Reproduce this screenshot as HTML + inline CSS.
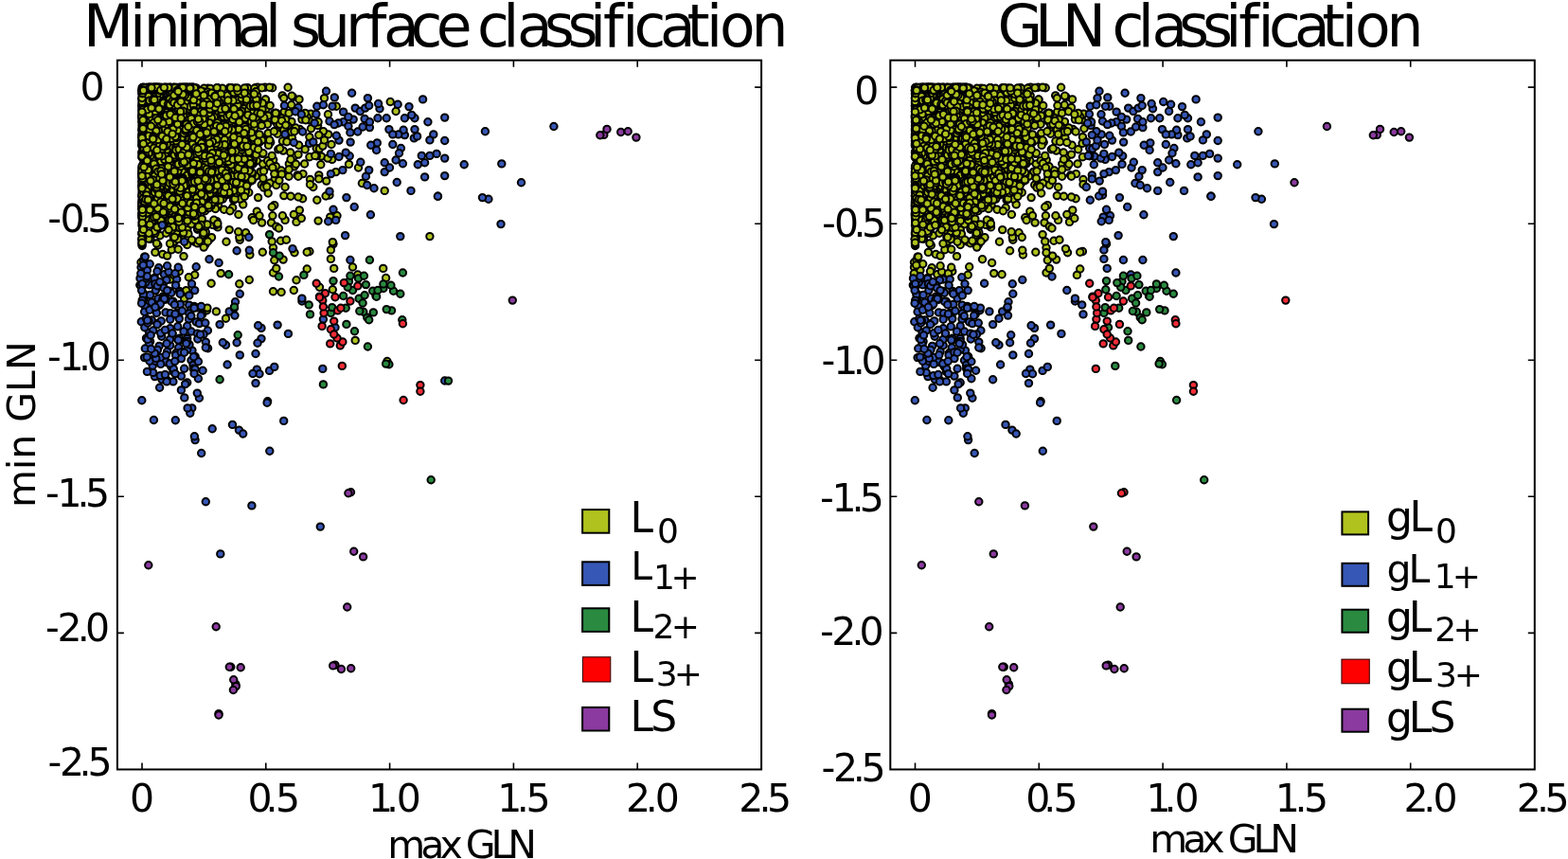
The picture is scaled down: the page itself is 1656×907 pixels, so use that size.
<!DOCTYPE html>
<html><head><meta charset="utf-8"><title>Minimal surface classification</title><style>html,body{margin:0;padding:0;background:#fff;overflow:hidden}svg{display:block}</style></head><body>
<svg width="1656" height="907" viewBox="0 0 1656 907">
<rect width="1656" height="907" fill="#fff"/>
<defs>
<marker id="mY" markerWidth="12" markerHeight="12" refX="6" refY="6" markerUnits="userSpaceOnUse" orient="0" overflow="visible"><circle cx="6" cy="6" r="3.7" fill="#afc21e" stroke="#000" stroke-width="2.0"/></marker>
<marker id="mB" markerWidth="12" markerHeight="12" refX="6" refY="6" markerUnits="userSpaceOnUse" orient="0" overflow="visible"><circle cx="6" cy="6" r="3.7" fill="#3757b6" stroke="#000" stroke-width="2.0"/></marker>
<marker id="mG" markerWidth="12" markerHeight="12" refX="6" refY="6" markerUnits="userSpaceOnUse" orient="0" overflow="visible"><circle cx="6" cy="6" r="3.7" fill="#2a8a40" stroke="#000" stroke-width="2.0"/></marker>
<marker id="mR" markerWidth="12" markerHeight="12" refX="6" refY="6" markerUnits="userSpaceOnUse" orient="0" overflow="visible"><circle cx="6" cy="6" r="3.7" fill="#f22c36" stroke="#000" stroke-width="2.0"/></marker>
<marker id="mP" markerWidth="12" markerHeight="12" refX="6" refY="6" markerUnits="userSpaceOnUse" orient="0" overflow="visible"><circle cx="6" cy="6" r="3.7" fill="#8b3a9f" stroke="#000" stroke-width="2.0"/></marker>
</defs>
<path d="M198.9 228.6 205.9 158.7 164.4 226.5 163.1 141.4 151.5 103.2 174.3 183.2 215.2 215.4 263.6 128.3 201.6 108.0 196.3 202.7 198.5 126.3 195.5 217.1 205.0 176.1 237.7 164.3 198.9 118.2 259.6 245.7 243.2 158.6 251.8 100.8 225.4 102.9 181.2 158.8 256.7 215.9 204.5 219.3 290.2 179.4 186.5 151.2 208.1 186.0 219.6 93.2 260.1 120.8 169.7 203.6 178.2 149.8 300.2 118.0 276.2 195.3 315.6 153.2 157.7 146.1 170.9 179.0 195.6 174.4 252.6 101.6 241.0 158.1 217.7 121.0 262.5 96.5 190.1 208.4 244.7 101.7 269.5 159.8 198.2 101.0 221.7 252.2 258.9 160.0 251.1 164.5 150.0 218.8 165.1 178.3 279.9 92.3 236.0 180.5 210.0 157.1 339.4 165.1 253.6 167.8 168.1 123.1 229.5 130.6 225.2 201.3 213.2 161.2 228.4 109.7 152.7 174.6 201.5 92.5 232.9 137.7 165.3 160.0 316.5 136.4 259.7 190.4 203.2 158.3 206.6 112.8 200.5 176.9 237.5 114.0 169.9 93.9 210.6 159.9 152.3 248.2 157.4 180.2 156.4 230.0 249.9 180.4 222.9 101.8 195.3 165.9 283.2 204.0 159.7 148.7 181.7 110.6 155.8 235.7 248.3 104.8 220.5 117.1 191.8 224.5 196.0 92.5 187.3 180.6 251.1 162.8 258.6 147.3 157.9 184.2 164.6 211.9 243.5 131.3 158.1 126.3 222.3 96.8 259.3 151.1 216.2 112.2 196.1 222.3 152.3 194.0 205.4 255.2 285.0 193.2 192.8 92.7 205.4 214.2 271.4 113.7 163.0 122.7 163.2 130.5 166.7 92.5 207.8 160.6 199.5 148.6 184.9 230.6 151.6 154.5 195.9 222.9 201.7 117.9 159.3 92.5 172.0 136.0 185.8 228.1 179.6 179.1 201.8 210.6 179.6 223.4 154.8 94.7 183.0 135.3 150.0 121.2 190.9 212.3 167.8 194.2 155.1 167.6 219.4 203.1 204.0 194.1 293.7 135.3 180.1 94.8 194.6 224.4 150.0 184.0 336.8 184.9 266.2 229.7 264.1 169.6 227.6 138.3 153.5 120.5 181.6 105.2 204.6 181.2 171.5 93.8 190.0 104.2 183.4 131.8 196.8 200.5 174.4 101.0 151.9 229.2 171.2 203.6 235.1 149.4 251.7 188.3 221.7 160.2 187.3 216.2 241.8 160.3 159.0 155.3 197.8 156.8 260.4 151.7 279.9 147.2 163.1 95.6 222.8 206.1 188.1 206.7 204.8 92.5 153.1 171.0 150.0 123.2 212.2 119.0 267.5 133.9 237.7 106.1 225.2 207.7 269.9 92.8 219.8 161.1 263.3 295.5 180.7 94.3 289.8 127.4 151.5 172.8 166.8 93.5 305.1 186.2 213.6 146.4 212.9 213.6 260.5 99.6 185.2 192.6 308.4 145.5 222.1 188.5 152.3 232.1 212.3 109.8 232.8 113.8 190.2 169.5 227.8 193.4 192.5 152.6 283.2 140.6 176.6 167.3 181.3 263.7 192.2 168.6 226.5 149.7 310.3 165.1 199.2 98.3 174.1 237.7 193.9 151.9 213.1 158.4 289.8 274.8 177.5 120.0 293.7 135.8 185.7 225.8 236.0 119.2 253.3 253.2 207.9 185.2 214.7 251.6 209.0 241.4 407.6 293.5 171.0 182.0 261.1 180.7 213.3 206.6 178.2 138.4 157.2 189.0 164.1 108.0 270.0 108.9 239.0 124.7 195.9 195.4 225.9 190.6 261.3 92.6 212.8 118.4 194.5 95.3 150.0 112.2 154.2 210.6 205.7 166.4 167.1 180.2 217.1 97.7 228.7 200.1 220.3 163.6 250.6 174.9 186.4 236.0 151.3 173.9 185.5 116.4 151.6 92.5 167.8 136.1 215.4 93.2 201.7 118.2 192.5 107.8 150.0 154.1 293.1 131.3 280.5 105.2 150.0 220.2 166.0 200.6 156.6 168.1 272.0 92.3 154.4 171.1 169.0 154.0 188.5 92.5 255.9 154.4 150.4 160.8 179.8 212.4 209.0 182.0 289.6 119.6 184.2 169.5 152.3 145.3 179.5 175.8 200.5 133.6 207.6 173.6 151.4 242.6 266.4 147.6 163.9 181.9 375.2 359.4 166.7 208.1 150.9 150.6 164.7 104.2 188.3 96.8 177.6 229.6 179.8 221.8 157.9 205.1 151.7 134.1 263.3 164.8 179.1 92.5 150.1 259.5 271.3 223.2 190.9 134.9 204.5 110.3 153.9 165.5 173.6 194.5 150.9 191.4 158.5 93.1 254.1 136.7 170.2 218.4 195.2 192.7 198.9 175.0 230.0 239.9 150.4 153.9 157.4 250.9 215.6 150.2 157.9 210.5 167.3 193.9 183.6 177.9 221.2 116.6 192.8 129.1 234.0 148.1 167.9 149.8 181.1 132.0 185.1 218.1 239.4 170.1 195.4 94.8 279.9 176.9 320.0 183.6 172.2 123.8 227.6 173.9 217.7 134.1 205.4 133.3 186.6 247.9 208.4 175.1 234.7 136.0 196.4 96.1 198.6 125.2 274.0 227.8 203.8 92.6 168.4 229.5 235.1 111.0 167.3 192.9 288.7 168.7 177.6 129.7 209.4 221.6 211.3 102.7 245.8 172.6 214.7 201.4 206.1 168.8 242.4 93.1 239.3 114.0 264.8 129.4 244.7 155.2 251.1 97.3 186.9 217.5 172.4 149.7 225.1 136.6 176.3 133.7 177.6 137.4 151.9 164.4 199.6 94.7 172.3 312.9 162.7 135.6 255.4 165.6 202.0 215.1 174.1 200.0 208.2 161.4 164.9 216.1 150.0 149.5 286.5 235.1 195.4 100.6 166.4 176.3 194.5 121.0 198.5 114.1 208.5 193.6 258.4 150.9 169.3 130.5 186.9 210.3 293.0 180.5 150.0 230.2 218.8 150.4 204.0 96.8 184.4 167.8 199.1 94.9 193.9 92.8 181.2 103.3 198.0 116.9 217.3 189.7 173.3 150.0 232.9 210.4 175.6 101.1 201.7 98.2 334.2 156.5 187.5 209.3 233.6 190.5 165.9 190.9 150.0 221.2 307.7 139.3 203.4 126.2 150.0 137.9 158.4 152.1 197.9 183.6 222.1 93.4 255.8 183.1 191.4 112.5 151.2 148.7 268.8 108.2 246.5 107.5 200.8 103.7 200.9 167.9 188.5 175.7 210.6 166.4 195.5 212.6 172.7 127.3 153.7 132.4 159.9 152.4 239.6 199.3 202.4 212.9 241.7 136.5 229.8 92.8 150.0 122.4 278.6 122.1 253.5 117.7 169.2 158.2 151.9 106.2 252.7 165.5 203.5 92.5 248.7 93.1 176.2 195.3 183.8 98.2 150.2 104.2 254.9 169.2 191.7 164.3 293.1 141.3 173.7 188.1 195.8 148.5 182.9 228.1 212.5 103.6 165.9 147.8 259.1 156.8 230.2 208.5 271.3 169.7 326.9 265.5 187.8 191.3 257.5 159.7 242.8 144.8 193.5 92.5 183.7 197.1 209.5 158.3 167.7 92.5 166.5 92.5 178.9 140.9 226.3 209.2 253.1 126.3 309.3 102.4 169.0 215.0 154.5 208.6 172.9 177.9 249.1 193.1 225.4 168.3 254.9 155.4 190.2 133.3 170.0 186.2 150.0 195.6 226.7 141.9 177.1 133.7 181.9 135.5 234.8 112.0 183.8 255.8 246.0 174.9 157.2 92.5 245.8 161.3 152.3 164.2 151.6 244.1 183.5 205.9 171.6 132.4 243.7 155.0 199.1 92.7 226.8 237.9 322.2 157.8 185.8 221.8 197.4 211.3 175.8 181.7 273.9 150.1 193.9 106.7 198.8 196.2 155.7 100.7 242.7 147.9 202.0 236.7 167.0 173.3 157.6 224.8 228.9 233.6 254.6 169.8 197.5 118.4 296.5 254.3 198.2 115.3 168.5 178.1 160.8 96.9 275.0 181.4 356.0 227.8 157.1 108.5 210.4 135.3 160.0 144.0 241.7 148.5 201.8 108.8 200.3 213.2 216.2 206.3 157.3 110.4 172.0 186.1 168.8 96.1 167.4 183.2 287.7 92.7 151.6 106.6 281.3 114.5 151.5 173.7 187.7 109.6 188.3 160.8 378.5 177.0 182.8 242.9 183.2 92.5 150.0 206.5 298.4 149.0 277.3 266.2 174.9 200.0 289.8 216.6 236.6 130.4 193.0 99.3 237.5 171.1 189.3 134.1 172.4 194.1 262.0 167.4 221.0 176.7 217.3 245.2 206.6 152.7 175.1 93.8 177.7 205.6 156.0 167.6 152.2 185.8 153.1 183.6 164.7 108.2 241.8 179.1 261.9 124.1 164.8 221.9 247.5 111.2 150.0 252.3 175.2 224.4 352.0 257.6 306.7 161.0 217.9 138.3 184.3 169.8 228.8 119.9 154.4 97.2 151.3 131.5 166.8 259.0 165.2 126.4 221.6 183.1 196.7 306.6 203.1 162.9 206.7 114.1 154.5 110.0 197.8 242.6 285.7 150.3 266.7 152.1 176.1 109.7 202.6 177.9 222.8 148.8 237.0 133.2 220.3 219.2 271.6 109.3 172.4 215.8 152.8 124.5 150.0 206.9 189.3 221.1 194.0 92.5 210.4 180.0 185.5 92.5 335.6 132.5 187.4 148.2 250.4 168.7 150.0 111.9 150.7 104.4 235.3 182.5 184.4 102.2 215.9 169.6 268.4 110.5 314.1 185.0 169.9 146.1 237.7 129.9 201.7 92.5 291.8 239.1 168.4 131.5 212.1 194.7 172.3 154.6 182.9 177.8 194.1 229.4 150.0 196.7 181.1 137.4 217.9 134.7 302.4 253.3 195.5 171.2 165.1 144.2 152.3 93.2 237.7 125.7 201.7 137.7 166.5 188.5 259.9 204.4 168.7 141.0 232.8 101.2 216.4 126.6 152.3 204.2 209.7 164.8 179.4 203.5 168.9 248.7 249.7 116.8 199.0 151.9 153.2 136.3 202.3 218.7 220.7 160.2 193.1 144.8 182.3 149.2 351.3 255.6 253.4 195.3 211.6 151.2 159.9 127.6 150.0 128.6 150.9 92.5 252.4 155.6 261.8 114.8 190.2 92.5 150.0 95.5 160.0 206.6 198.9 246.9 234.9 206.2 255.5 185.1 219.5 128.4 208.2 162.5 189.0 117.9 263.4 99.8 201.6 176.5 209.7 222.3 153.0 217.4 240.0 157.0 319.6 209.7 233.7 205.7 215.2 97.0 160.1 94.9 198.9 102.4 158.4 220.2 224.6 157.8 220.0 177.2 312.3 135.0 163.2 129.9 151.2 189.6 260.0 108.6 180.9 202.3 181.3 132.4 192.3 151.6 205.7 226.5 244.9 109.1 250.3 113.1 183.4 145.7 273.8 121.5 180.5 192.5 214.8 156.3 229.0 196.1 199.4 96.8 217.3 167.8 241.7 157.3 195.9 103.8 197.7 207.4 257.4 191.7 326.1 126.7 155.7 178.7 404.7 283.4 246.4 123.4 188.3 165.3 172.5 222.5 172.1 159.7 200.7 197.5 224.7 177.8 221.8 175.3 163.9 266.4 270.6 107.4 196.1 176.9 315.0 208.0 168.9 199.4 227.2 180.1 162.5 92.5 178.1 108.0 178.9 199.8 162.7 120.2 177.8 111.6 186.4 93.5 198.5 184.1 180.5 144.0 188.7 216.0 252.5 185.8 218.9 180.9 158.5 92.5 212.5 152.4 180.1 239.3 200.6 225.2 183.3 131.2 171.2 125.2 214.6 168.0 159.6 92.5 251.3 130.5 297.1 308.5 257.5 137.9 173.3 119.1 334.3 164.7 190.2 203.0 198.4 93.7 157.6 134.9 195.9 103.3 205.2 110.8 187.3 209.7 195.1 118.5 179.8 146.7 238.7 161.5 372.5 282.0 221.8 203.5 158.9 94.2 151.5 211.4 197.7 140.9 181.0 118.6 202.5 211.3 208.7 165.1 150.0 225.5 271.1 129.1 174.5 234.0 150.0 190.8 151.7 156.0 221.8 120.2 171.2 162.8 196.2 100.0 263.1 192.1 193.8 179.9 198.0 111.2 229.0 111.5 186.0 157.6 271.7 105.0 252.4 125.2 253.7 179.5 355.3 112.2 188.2 263.2 236.1 145.0 243.5 176.1 262.8 203.3 153.6 127.4 169.6 104.5 270.5 154.6 171.0 130.8 200.1 199.1 254.9 168.5 227.1 193.0 251.3 141.9 158.8 223.3 195.5 92.5 157.8 102.7 222.7 155.2 189.0 94.6 181.2 131.5 175.3 192.5 156.0 223.5 203.4 92.5 152.0 124.0 264.6 118.0 186.4 126.3 189.3 132.8 191.9 182.2 249.3 96.1 239.0 183.0 157.5 92.5 188.8 113.6 172.6 213.8 195.7 163.8 157.8 175.4 163.7 93.2 204.9 96.8 199.7 92.5 274.9 149.2 176.5 174.8 218.4 143.7 181.2 109.6 208.2 101.8 224.2 142.8 205.0 176.2 275.3 181.6 182.4 217.6 221.1 160.8 232.9 183.2 208.5 256.9 211.7 119.0 249.4 192.7 244.1 162.9 170.0 139.7 241.4 148.1 168.5 148.8 150.0 224.5 215.4 195.8 187.8 232.1 225.0 124.3 224.5 168.7 262.0 93.3 183.5 130.3 150.0 121.8 150.6 242.0 192.3 93.2 228.3 194.9 150.0 215.1 220.0 100.3 150.0 195.7 167.2 130.5 206.9 150.2 152.1 183.1 201.2 139.0 243.0 166.3 153.3 120.5 249.1 143.8 155.5 143.5 252.7 187.1 187.8 109.8 162.9 105.9 257.5 160.7 214.4 131.2 195.9 228.6 382.4 193.5 194.8 211.1 182.0 114.5 196.6 180.0 228.0 122.4 213.6 112.6 173.5 115.3 262.1 109.1 150.0 258.3 155.8 102.0 316.3 221.9 240.2 137.8 271.8 131.4 192.6 139.4 326.9 165.7 346.5 120.8 230.4 139.4 170.2 170.0 280.4 105.0 159.1 219.6 150.0 161.8 244.5 113.9 209.6 178.1 191.2 128.8 160.7 147.7 226.9 117.9 192.8 220.6 208.1 128.5 164.3 135.5 152.3 94.4 150.0 145.4 160.6 93.1 245.1 195.5 203.2 195.2 195.3 214.3 230.5 139.9 262.9 138.1 188.2 204.6 201.8 134.0 188.3 190.7 187.5 142.2 212.7 116.3 184.9 226.0 207.3 92.9 193.9 180.7 166.4 228.5 249.7 145.0 283.1 122.2 270.7 106.9 155.5 221.8 213.0 111.5 178.1 92.9 150.1 115.8 226.2 159.9 278.5 180.8 196.1 147.9 328.1 120.1 194.9 120.3 202.9 202.8 221.0 219.0 150.0 213.3 156.8 113.4 215.5 104.3 167.3 204.7 200.9 156.3 164.3 121.2 234.2 130.4 200.0 219.1 150.7 253.7 150.0 177.6 192.2 122.1 155.1 160.6 225.9 178.6 246.5 174.0 152.4 223.0 170.9 138.0 195.3 223.8 152.0 102.8 213.4 182.9 174.9 227.2 192.7 149.1 262.7 120.5 216.5 219.0 202.7 104.7 162.2 183.9 229.9 142.5 176.8 224.3 214.4 196.2 221.3 201.9 277.7 173.1 166.9 104.4 324.2 123.4 260.0 162.3 161.3 111.8 153.8 210.6 184.6 140.2 270.1 186.1 206.0 212.1 172.4 92.8 150.0 178.2 215.5 157.5 172.4 113.6 189.6 145.9 159.8 130.1 167.9 104.0 187.6 237.9 183.7 140.5 229.2 138.0 187.5 246.9 235.5 153.5 238.4 143.5 172.5 182.7 166.2 241.5 207.2 210.9 259.9 138.2 158.3 208.8 183.6 160.5 226.2 127.5 165.9 132.1 150.2 130.1 192.2 92.5 194.6 220.8 278.8 124.2 171.2 208.4 194.1 107.4 189.4 185.8 150.5 232.6 173.6 116.9 205.0 123.7 152.7 208.0 247.6 117.4 152.8 138.7 264.1 134.2 167.2 130.6 239.0 255.3 260.9 98.1 266.2 184.5 290.3 188.2 216.5 222.8 159.1 140.4 226.8 178.6 302.9 149.7 154.7 115.2 205.7 160.7 176.3 184.8 239.0 154.1 167.2 206.1 158.3 92.5 150.0 111.6 178.4 122.2 185.9 188.3 194.2 133.5 159.4 158.7 180.1 92.5 177.4 210.7 190.4 227.1 205.7 290.2 188.9 153.1 153.9 230.4 352.7 283.4 185.8 192.9 228.8 162.6 201.4 133.8 157.0 234.6 336.8 188.9 223.7 101.3 215.9 217.6 231.9 138.6 177.4 231.9 244.9 169.7 191.3 177.9 204.3 226.4 231.5 137.9 171.4 230.4 171.2 122.0 184.5 107.0 212.6 100.2 201.9 146.4 174.5 92.5 188.3 219.5 178.3 130.6 209.2 142.4 183.8 92.5 164.2 112.5 189.4 161.1 236.8 154.0 327.5 189.5 185.9 205.8 270.0 128.7 217.9 136.3 173.2 186.6 198.6 173.3 165.6 143.5 151.9 216.2 183.9 219.2 176.9 215.2 167.7 150.8 259.7 189.4 219.5 201.6 211.3 115.8 208.7 115.2 226.6 147.4 251.7 161.4 243.0 152.5 267.4 173.0 229.1 164.4 160.4 158.8 212.0 166.4 237.9 103.8 248.7 197.2 350.7 168.4 250.4 204.5 243.2 102.7 208.0 140.0 233.7 142.0 177.0 163.5 177.3 104.3 201.3 147.3 169.4 111.0 239.5 162.0 150.6 242.0 251.9 162.8 174.3 164.7 267.9 144.8 234.5 202.2 197.5 94.0 233.1 166.7 178.8 182.6 177.7 119.4 150.0 182.0 209.3 107.0 157.1 123.9 235.1 179.3 239.3 138.1 253.8 139.2 167.7 147.0 174.1 136.0 266.1 182.1 264.2 119.5 242.2 242.6 175.1 121.8 418.1 117.5 206.8 113.5 150.3 229.0 150.1 210.0 206.4 198.5 212.5 233.0 150.0 214.7 222.9 101.5 189.4 156.9 253.5 172.8 174.8 183.3 307.9 128.4 196.1 92.5 203.6 178.5 218.6 160.0 191.5 250.2 156.8 225.8 190.2 155.0 173.2 94.3 264.8 142.8 181.9 174.0 150.1 122.4 174.5 218.7 243.1 109.4 169.1 111.5 225.6 127.4 213.7 216.0 245.4 185.7 223.2 201.7 185.3 194.2 150.0 125.6 245.7 133.6 303.7 132.7 269.5 128.3 171.3 117.4 282.6 169.7 209.7 202.8 162.7 199.9 189.1 197.8 244.2 179.5 196.1 105.1 235.2 201.9 224.2 117.2 205.6 163.1 205.6 166.7 191.0 179.8 262.7 148.3 193.2 191.4 221.4 173.2 196.6 216.7 337.4 157.1 193.7 169.5 195.8 133.3 153.9 193.8 149.8 226.5 198.4 182.5 182.7 239.8 197.9 92.5 190.2 164.0 196.1 182.3 195.4 125.3 220.0 216.9 219.9 134.6 157.8 248.8 258.2 136.0 313.0 234.4 150.0 104.7 258.7 100.9 171.5 126.5 167.8 92.5 223.1 204.9 267.5 168.6 179.3 104.3 186.9 118.9 202.7 115.6 232.9 112.3 254.7 192.9 165.8 173.7 277.0 115.3 212.6 205.1 150.0 103.3 169.7 126.9 151.4 212.7 181.3 101.6 162.1 162.2 162.0 92.5 222.7 157.8 213.4 192.0 227.9 188.6 253.1 194.6 245.2 145.9 178.0 92.5 182.1 118.4 186.3 92.9 227.6 156.8 194.6 110.4 195.9 132.2 174.5 92.5 180.4 100.3 181.0 205.8 181.4 219.9 301.1 232.4 267.6 232.5 162.8 147.8 240.3 146.6 250.9 126.0 165.2 186.9 163.8 168.0 193.2 180.5 254.8 147.9 164.2 137.3 187.9 98.8 214.0 170.2 249.2 100.4 233.7 181.9 201.8 183.1 220.1 145.9 215.5 132.0 165.3 129.8 201.4 152.1 150.0 94.9 268.8 93.3 204.0 162.8 152.2 100.1 254.9 123.3 222.2 136.5 189.3 214.8 406.2 201.4 197.1 127.2 290.9 119.2 224.6 237.4 151.5 187.0 199.3 160.1 244.4 93.2 155.9 165.1 192.1 98.8 175.3 171.4 166.4 136.9 224.7 180.2 151.9 165.7 243.0 127.6 216.9 197.1 202.0 116.4 256.4 113.5 377.8 290.0 169.5 172.1 150.6 151.9 180.5 145.8 169.8 142.6 169.3 115.6 182.3 159.4 165.6 92.5 164.7 92.5 152.0 99.7 192.0 148.5 192.9 207.7 151.0 110.9 203.2 207.9 249.8 200.5 158.8 184.6 193.2 95.5 234.2 169.0 220.9 158.7 251.6 103.1 189.3 286.5 189.9 107.7 189.0 101.8 198.1 106.8 171.8 268.5 188.7 215.2 169.9 217.8 199.5 105.6 171.7 200.3 163.8 199.1 227.2 124.9 230.5 216.3 313.0 295.7 288.5 261.5 178.0 144.6 243.0 198.4 264.9 149.3 207.2 143.0 200.6 214.8 205.3 150.9 234.6 118.7 213.2 256.7 168.5 181.8 182.0 136.7 184.7 137.7 188.5 194.9 224.5 154.2 299.8 206.6 203.2 210.5 223.9 187.1 227.0 193.7 199.2 230.8 257.2 176.6 209.0 216.7 170.3 145.2 244.7 130.7 215.3 188.3 150.0 128.3 159.7 194.7 200.6 137.9 151.4 92.5 187.8 95.0 234.4 201.5 247.1 140.9 205.8 182.4 257.5 139.8 262.0 138.1 154.9 229.0 154.7 127.3 222.6 123.8 163.0 211.2 155.8 173.0 150.0 203.2 252.7 122.6 228.4 165.1 203.2 137.7 204.4 127.7 223.1 104.5 201.1 148.0 204.4 223.2 167.5 128.4 150.0 207.0 218.4 213.3 197.3 113.6 236.5 114.5 163.3 221.2 238.0 106.3 150.8 136.1 194.9 96.6 174.7 201.2 175.8 139.4 213.0 206.2 190.4 114.5 150.0 217.9 351.3 305.8 178.2 230.4 169.8 212.8 270.4 154.5 175.5 246.3 241.2 141.8 155.8 130.6 179.9 170.7 255.8 188.8 258.9 99.2 193.7 245.7 176.1 202.7 178.0 183.3 231.8 148.0 187.4 104.6 214.4 248.1 150.4 161.0 167.7 177.2 186.8 165.4 157.4 165.3 174.5 97.4 162.3 107.9 208.4 135.3 223.4 178.5 237.6 170.4 171.3 127.3 157.3 109.8 152.7 94.5 291.5 175.8 198.1 229.6 154.3 127.4 151.6 247.9 156.4 92.6 207.4 131.4 214.0 195.4 257.0 190.4 154.3 99.5 249.3 189.5 242.2 119.5 178.5 95.9 209.2 160.6 368.5 173.4 166.5 225.7 203.6 110.6 191.6 149.2 157.3 121.8 210.6 197.6 222.2 122.9 234.4 137.7 158.4 107.4 155.7 120.0 155.1 190.7 173.6 182.6 196.2 115.9 251.2 141.5 242.4 92.6 190.9 218.5 175.7 114.1 210.8 140.7 252.8 299.7 164.3 187.1 189.8 112.4 158.4 164.7 192.8 181.5 206.2 232.5 181.4 226.5 178.0 212.7 150.7 109.2 183.9 231.5 198.6 98.6 167.8 172.4 195.2 92.5 168.7 193.4 189.6 214.9 258.6 128.2 187.2 196.4 208.7 164.3 174.5 123.3 204.8 164.2 171.3 93.8 161.6 179.6 164.7 223.5 174.0 151.5 160.7 221.7 169.1 129.6 211.6 203.2 191.4 127.6 223.6 155.5 150.1 234.6 272.1 142.3 163.0 176.1 185.8 136.1 256.3 122.0 235.4 126.0 322.2 119.4 249.7 156.0 157.6 149.4 157.2 120.1 173.4 102.1 162.4 212.8 211.5 151.1 183.4 250.5 150.0 124.4 340.9 154.1 171.4 193.5 288.5 288.0 307.0 207.3 158.9 252.3 277.3 108.9 197.1 101.5 227.8 135.9 167.8 130.1 326.9 144.6 229.9 131.5 177.6 191.1 167.0 176.8 197.9 233.1 349.4 273.4 261.3 109.0 249.3 111.4 243.9 92.6 342.5 103.6 151.0 252.7 201.1 133.5 170.2 166.2 178.1 166.8 202.7 169.3 168.4 134.0 324.2 284.0 219.2 113.3 197.3 209.3 305.1 119.4 272.0 130.0 160.9 186.9 185.2 96.7 180.2 185.7 171.2 118.5 192.6 92.5 174.7 211.3 271.7 101.1 251.1 98.6 174.0 92.5 201.4 122.7 240.8 147.5 336.1 128.7 201.2 164.2 161.9 95.3 236.6 221.2 179.0 114.9 207.1 212.1 234.9 136.5 180.4 154.7 154.9 92.5 206.4 210.6 149.0 277.0 150.6 123.3 202.4 106.9 152.1 147.2 150.9 106.1 255.5 171.2 166.3 211.6 192.9 106.8 152.0 148.8 164.3 168.1 264.9 190.4 176.0 137.6 282.5 131.3 235.3 210.1 199.4 208.4 253.1 107.8 231.5 203.3 189.7 118.6 241.9 182.5 258.0 114.7 214.4 166.3 204.3 221.5 174.0 152.7 178.0 196.7 253.5 210.1 171.4 137.7 161.3 186.7 225.8 187.3 150.0 137.2 168.4 225.5 193.1 157.5 232.9 160.9 233.8 154.4 172.8 109.8 153.5 156.3 245.9 102.9 453.9 249.6 251.0 110.9 232.1 163.2 165.4 92.5 198.1 166.0 315.0 186.2 188.4 98.9 159.1 166.8 182.4 204.3 186.2 203.5 222.4 122.1 156.2 189.3 271.9 107.4 180.3 123.3 268.4 116.4 186.4 136.0 185.0 132.3 168.8 227.8 176.0 139.6 236.1 161.6 155.8 185.3 256.4 143.5 174.2 162.4 164.4 92.5 202.4 132.1 199.9 92.7 258.3 131.6 201.5 203.5 196.2 198.1 150.8 106.3 201.9 106.0 186.8 122.1 203.0 92.5 283.6 153.4 291.8 195.5 163.5 102.2 200.4 93.4 195.0 195.7 158.8 95.2 156.3 92.5 180.6 149.8 179.2 139.9 229.2 212.5 216.9 258.2 298.9 135.9 162.3 92.5 166.0 192.9 158.4 117.2 258.6 133.8 172.8 174.5 182.5 93.2 279.0 196.3 188.1 151.8 177.6 204.3 200.5 131.8 219.3 97.3 243.6 185.1 156.2 188.6 153.4 152.5 159.9 202.4 189.9 240.6 184.2 98.2 167.6 155.2 210.9 152.9 259.0 175.3 199.3 292.8 190.5 212.9 254.2 189.5 206.5 149.1 160.6 93.2 167.7 195.9 150.0 165.7 222.2 107.3 170.2 150.3 151.6 228.3 212.4 167.0 165.2 162.8 226.9 102.5 187.6 164.6 159.6 194.1 208.8 148.2 206.2 163.6 245.2 137.5 171.6 128.0 230.3 110.3 208.7 176.2 150.0 109.8 246.6 211.2 183.5 99.0 213.1 98.3 175.6 138.0 202.0 166.5 195.8 212.2 189.2 94.7 190.1 217.1 318.9 126.1 161.9 246.6 183.5 255.3 170.3 102.7 216.8 210.3 251.7 156.9 183.7 92.5 175.5 163.2 196.4 97.5 175.3 120.0 161.6 152.3 316.0 104.9 154.6 92.5 168.8 105.2 182.0 223.6 185.3 157.7 174.8 136.5 259.7 179.9 155.2 188.3 232.4 99.9 150.0 99.2 165.4 257.0 310.3 226.5 242.4 162.2 176.4 123.8 154.0 147.7 205.2 184.6 198.3 117.1 197.6 185.1 193.1 187.8 188.1 115.5 213.4 130.6 168.6 134.6 159.4 94.5 227.3 192.0 177.6 117.1 223.9 105.9 230.2 201.1 180.4 204.4 155.3 148.0 223.4 215.4 179.0 190.0 227.0 136.8 203.3 169.4 150.0 227.8 171.2 192.0 150.6 125.5 232.3 158.8 259.1 125.1 189.9 132.4 304.1 92.3 195.8 101.6 252.6 129.7 324.2 266.2 188.6 152.6 150.0 152.7 189.3 92.6 175.8 142.1 222.6 203.1 167.3 234.1 163.0 104.3 202.8 183.4 167.3 141.9 166.2 94.0 299.1 274.1 259.3 179.4 200.8 92.5 230.6 128.0 220.4 169.0 258.0 151.8 231.1 190.7 174.7 218.1 198.1 221.9 197.9 117.3 160.5 204.5 276.2 145.2 163.3 148.8 301.1 197.5 174.9 161.2 250.6 105.4 220.6 105.7 220.4 112.7 157.0 252.1 235.7 141.0 238.5 336.3 212.0 199.0 174.8 143.0 150.7 223.3 201.0 93.7 217.6 238.8 159.6 157.1 163.8 246.3 207.1 111.3 153.7 119.7 150.5 94.0 311.0 266.8 204.1 94.4 152.3 145.8 206.3 201.8 257.2 176.1 166.7 229.3 223.5 250.6 178.4 184.2 167.9 92.5 188.8 231.7 160.8 230.2 176.6 270.1 161.7 232.0 221.9 122.9 180.0 107.4 328.5 135.8 261.9 189.7 237.1 153.2 207.1 195.5 174.1 142.4 168.6 118.7 215.9 119.0 150.0 123.2 318.3 230.5 161.1 167.6 168.6 133.9 212.9 154.5 192.6 143.3 223.4 189.4 218.8 186.4 297.0 124.7 150.0 182.7 204.8 92.5 202.5 217.6 265.5 172.8 199.7 217.6 150.0 135.8 244.0 106.7 214.9 190.6 255.3 103.9 220.1 176.0 191.6 92.5 238.3 161.4 243.8 114.2 200.6 166.9 298.2 100.9 293.1 131.2 170.5 139.9 181.8 210.5 179.6 150.5 178.1 177.9 180.2 98.1 150.0 187.9 208.5 226.8 163.0 244.3 150.9 136.9 198.5 167.3 227.1 204.6 249.0 155.5 255.1 158.2 175.5 104.9 180.4 145.5 175.8 168.5 168.3 154.3 259.1 181.8 219.8 214.4 203.9 205.1 160.5 92.5 169.5 161.6 346.7 141.9 162.6 101.1 265.4 128.4 184.3 194.7 214.8 220.3 224.2 102.2 225.9 198.4 185.7 176.6 170.4 92.5 150.6 153.1 150.7 96.9 254.0 183.5 263.9 178.0 152.6 170.9 266.3 190.5 165.2 103.3 229.2 192.1 160.8 98.7 215.0 107.8 158.6 145.6 212.1 113.2 182.5 137.9 354.7 181.6 270.6 104.9 166.1 138.2 183.8 129.6 174.5 150.5 150.0 192.3 227.8 168.5 299.1 159.1 186.9 111.4 251.2 154.0 263.1 180.2 174.8 184.0 227.0 183.5 167.7 102.5 188.5 172.6 191.0 92.5 177.4 112.1 201.7 190.4 262.3 147.7 158.1 143.3 160.4 181.1 217.3 172.5 188.5 196.9 218.7 109.9 154.6 208.8 167.5 115.4 186.1 136.6 150.0 212.4 243.8 135.2 225.3 213.8 198.2 164.9 164.7 176.8 245.5 195.7 193.5 170.3 166.0 194.3 180.6 123.1 150.0 184.2 159.1 196.2 155.1 212.2 157.2 189.8 225.2 206.2 179.0 182.9 152.2 218.7 221.6 206.0 190.1 99.2 203.9 92.5 233.8 194.2 159.8 156.0 169.9 202.9 150.1 92.5 150.6 176.7 151.8 129.8 255.2 117.4 277.3 162.4 260.5 150.3 167.6 134.1 167.2 96.0 214.4 184.9 276.6 148.0 171.0 207.4 166.0 239.9 163.3 134.3 186.3 115.8 166.2 127.6 170.5 181.5 262.6 115.5 199.4 132.5 163.6 95.3 166.8 210.8 229.4 188.8 158.4 149.4 206.7 121.0 200.0 121.7 245.2 167.6 185.0 173.9 165.3 145.4 150.7 93.8 153.3 97.9 212.3 96.0 219.7 126.2 330.8 197.5 176.5 153.1 201.8 118.7 156.5 93.0 152.1 196.7 232.0 165.2 238.0 116.0 150.8 251.4 171.9 155.0 233.2 288.6 278.6 198.1 218.6 185.3 184.2 224.3 194.1 169.6 229.4 177.3 180.6 174.1 229.1 237.0 195.1 172.8 226.8 201.0 153.3 125.4 197.9 92.5 210.2 214.1 212.9 198.5 221.8 204.5 305.3 173.1 156.1 98.4 190.2 93.6 226.7 200.5 164.7 145.6 210.3 126.7 198.5 101.6 179.8 92.5 201.3 194.1 150.0 117.9 155.1 168.4 226.2 123.8 172.0 149.6 259.2 142.5 167.3 214.2 227.5 220.5 193.2 172.0 268.1 147.7 178.9 188.0 170.9 97.1 166.5 99.6 190.2 128.7 238.1 179.8 171.3 215.2 218.0 188.6 297.1 180.0 219.5 255.0 173.2 210.8 198.9 104.7 193.7 128.9 311.6 114.8 189.2 188.1 188.0 251.6 219.7 190.7 202.7 92.6 172.3 227.9 206.1 169.4 301.7 126.1 202.8 92.5 252.8 250.5 220.4 197.8 220.2 191.7 270.1 145.2 216.4 218.2 155.3 222.7 205.4 126.2 187.4 134.4 244.1 174.1 246.2 114.6 222.4 177.2 195.9 114.3 192.7 142.6 268.8 126.2 192.9 124.4 160.2 128.1 159.4 163.7 177.0 105.9 204.3 147.8 214.9 133.8 178.3 207.4 220.0 99.8 155.9 149.8 159.5 100.8 195.6 103.8 205.0 113.4 350.0 152.5 245.7 219.2 193.1 103.7 246.1 99.6 168.2 110.5 199.9 107.9 154.3 115.7 160.8 201.2 222.4 104.2 189.9 97.8 204.1 124.3 210.3 178.9 168.5 110.0 167.9 231.0 253.3 119.4 189.4 168.9 220.3 127.7 162.1 224.5 268.1 155.8 188.0 180.5 245.0 150.6 247.4 93.3 155.1 186.9 251.8 196.9 168.6 100.7 161.2 92.5 287.2 218.5 164.7 121.3 218.4 107.4 167.6 172.9 150.0 115.1 192.8 145.0 185.9 125.2 166.1 104.5 202.5 253.2 182.0 198.7 152.8 188.1 223.6 115.6 196.0 104.6 158.6 118.2 152.1 214.7 243.7 103.6 266.2 171.4 187.8 207.5 154.1 110.6 160.5 186.2 213.4 114.7 154.6 230.4 201.6 223.0 186.0 189.1 166.9 145.4 195.8 157.5 162.3 163.9 241.2 161.6 150.0 185.8 158.6 214.4 209.4 169.1 209.9 202.5 180.7 151.5 243.5 103.9 152.9 120.9 150.0 229.0 174.3 162.5 203.2 174.8 225.1 156.1 228.4 328.9 178.5 158.1 167.4 157.5 178.4 222.3 341.4 138.6 150.0 247.5 201.6 124.9 201.6 159.5 226.0 200.1 172.8 130.4 159.8 159.7 150.0 185.1 150.0 132.8 150.0 192.2 159.4 139.9 180.8 93.7 273.0 150.9 201.5 199.0 210.4 254.2 196.2 173.9 208.2 108.3 412.2 107.5 176.7 149.9 230.5 162.3 176.4 157.9 211.3 215.8 200.6 159.8 162.4 149.1 150.0 160.3 219.7 164.7 270.7 121.9 179.4 204.1 184.2 212.9 220.5 214.7 180.2 92.5 247.0 143.4 169.8 122.5 220.8 145.5 179.7 106.0 170.4 166.8 225.4 153.2 186.8 108.8 159.9 193.4 222.9 217.4 165.1 187.0 263.2 163.0 157.2 123.2 232.8 145.3 163.8 132.4 170.6 213.3 166.9 176.8 258.3 92.9 199.0 146.4 182.8 201.3 190.6 225.1 215.7 164.6 230.6 152.6 176.0 232.9 151.9 193.6 183.1 158.1 247.2 210.6 207.8 171.1 201.3 173.7 193.2 136.5 292.6 120.0 155.4 123.6 269.2 124.5 257.3 171.2 150.0 246.1 182.0 148.3 202.1 93.5 252.1 186.6 166.9 98.3 152.0 199.6 188.8 232.8 349.4 263.9 210.4 168.6 182.9 167.2 220.6 191.1 217.9 189.3 179.1 122.3 287.9 227.8 185.7 155.0 237.3 156.1 159.2 138.4 183.8 134.3 205.2 202.1 149.8 217.0 222.5 117.9 246.4 123.1 151.7 167.6 204.0 209.8 336.8 142.6 265.1 142.2 152.9 111.9 183.6 207.0 220.6 219.6 251.9 226.5 161.7 101.7 271.0 126.6 160.1 194.5 155.6 224.8 260.7 103.6 268.7 135.2 156.9 232.4 155.6 116.1 156.5 157.6 169.4 197.0 199.7 129.4 160.0 163.1 169.2 158.3 179.3 206.9 189.0 94.0 152.4 101.1 185.2 166.0 210.6 204.2 157.9 92.4 337.5 303.2 223.4 124.5 179.2 108.7 220.1 182.1 334.8 211.3 161.5 169.8 184.1 92.8 214.4 113.0 151.2 130.8 252.2 136.4 223.1 299.2 183.5 161.6 220.5 154.9 213.9 124.2 158.5 182.7 240.2 188.7 199.7 155.0 264.8 121.3 235.6 150.7 408.9 381.5 240.0 123.2 203.1 181.9 184.1 206.7 192.2 136.7 188.2 93.9 242.0 143.2 150.5 228.8 251.8 192.4 163.0 111.4 242.8 148.7 299.8 103.6 250.5 128.0 229.6 129.8 203.9 190.8 153.7 93.0 180.5 222.7 245.3 137.1 194.6 315.1 346.1 167.1 191.3 228.5 262.8 166.2 173.9 117.9 150.0 185.1 191.8 213.3 150.0 220.2 152.5 148.6 151.3 115.5 206.7 163.3 239.2 166.3 226.6 146.1 171.1 168.9 176.4 145.3 239.4 105.7 178.3 145.3 227.9 150.4 310.7 175.9 186.4 173.6 220.9 187.9 287.2 164.4 208.4 215.2 169.8 170.9 276.6 235.1 192.4 239.9 348.0 206.0 248.8 152.3 179.8 216.9 164.1 119.1 162.7 219.0 227.3 170.2 223.6 98.2 182.2 107.7 151.8 108.4 179.0 193.2 195.0 214.0 267.6 118.5 201.4 219.8 227.1 176.8 186.2 157.9 194.7 124.2 186.6 224.9 186.7 159.1 170.3 92.5 344.7 191.1 202.2 114.0 246.1 151.3 217.8 136.9 210.5 120.9 201.4 93.8 164.2 92.5 158.5 139.3 164.8 191.6 160.6 131.9 158.8 164.7 268.4 131.0 233.2 155.5 194.7 167.8 172.5 106.6 243.4 110.3 175.6 154.1 238.1 193.1 202.6 217.2 185.4 227.9 236.3 130.4 182.9 155.4 188.9 212.7 213.2 164.3 194.4 163.9 181.2 135.9 225.9 232.2 163.0 92.5 158.1 192.1 231.8 182.1 237.3 161.4 206.7 97.8 182.6 137.0 151.1 103.3 200.8 163.1 232.5 185.4 237.2 147.5 184.0 208.7 181.3 219.5 168.2 94.0 245.1 188.7 233.4 194.5 181.4 149.0 150.0 144.3 218.9 187.7 150.5 108.0 211.7 188.0 191.6 93.0 230.0 151.5 195.3 213.4 220.6 119.4 289.4 138.7 221.7 115.4 162.4 213.5 241.3 170.6 203.5 196.2 252.0 177.4 179.2 104.7 285.0 172.5 265.6 109.9 239.8 205.8 174.5 126.3 189.8 206.8 166.8 94.9 180.4 177.2 262.0 121.4 185.2 191.5 234.4 108.8 261.0 151.4 229.3 133.4 198.1 173.9 222.0 179.9 199.2 110.4 189.1 234.3 210.4 177.7 239.3 204.6 200.3 92.5 165.3 190.6 215.6 159.2 181.0 92.8 150.0 153.4 159.0 127.6 175.9 151.6 207.1 113.4 238.4 201.2 277.9 161.8 219.3 160.5 224.9 212.4 236.1 132.0 218.9 237.0 208.6 242.3 186.8 149.5 246.1 119.0 216.5 167.1 234.9 93.3 220.8 215.3 198.2 102.7 164.2 189.2 159.8 94.9 220.8 110.8 190.4 220.9 164.3 183.2 176.3 152.1 163.2 196.5 246.1 106.2 214.9 176.8 240.3 100.8 181.1 183.9 185.8 98.4 195.9 222.9 160.9 102.0 150.0 123.5 267.2 145.3 173.4 215.0 208.6 117.9 262.9 160.5 163.1 92.5 197.4 153.0 336.1 233.1 245.6 121.9 187.7 252.6 185.9 145.4 168.9 154.6 233.3 99.2 252.2 143.5 228.7 154.4 195.5 157.5 211.8 210.3 207.9 137.1 194.6 209.2 220.6 200.1 203.9 224.8 218.3 178.4 157.0 92.5 188.4 125.4 221.2 129.6 272.4 149.7 201.1 203.6 160.8 130.4 150.0 246.5 276.3 132.6 255.8 194.4 253.1 119.8 153.5 139.2 170.5 177.9 213.6 131.5 216.3 164.4 194.6 92.5 201.6 117.0 222.1 158.7 266.5 112.1 171.7 109.0 270.3 124.0 258.3 99.4 158.9 102.9 150.1 206.3 167.0 152.9 152.0 118.1 168.7 94.1 187.4 211.3 270.2 96.7 171.4 94.0 241.2 136.3 207.0 98.9 208.1 147.5 189.4 155.1 229.0 209.9 150.0 166.3 227.4 111.3 152.6 92.5 201.2 135.2 150.0 237.9 227.3 110.5 215.9 207.5 169.5 95.5 150.0 107.4 198.8 92.5 264.7 173.7 212.8 151.2 176.8 218.6 312.5 173.2 245.4 96.6 276.6 92.7 184.3 250.5 220.5 136.2 157.9 137.4 255.1 99.5 209.3 203.9 163.4 203.3 228.3 175.2 184.6 112.1 216.3 124.0 205.5 92.9 179.7 295.0 155.9 145.6 194.7 110.0 252.7 144.4 217.8 186.4 161.3 93.7 220.4 136.4 172.6 93.0 263.6 172.5 220.8 186.1 172.7 93.7 209.5 101.4 229.4 195.9 203.3 211.0 197.7 258.5 198.3 92.5 157.3 212.7 199.6 130.5 196.3 109.2 182.3 192.5 156.7 101.6 175.6 92.9 258.7 148.9 215.3 100.8 157.0 159.5 199.6 224.1 246.6 148.7 156.2 198.1 242.6 121.8 185.9 133.7 179.9 130.0 165.9 151.9 290.4 126.5 155.1 117.9 157.1 162.0 211.4 187.3 165.6 92.5 189.4 218.3 210.7 120.1 211.8 207.9 189.1 206.2 152.6 141.9 159.4 123.3 268.4 99.2 170.8 123.2 255.0 171.7 203.1 192.5 252.3 147.5 163.1 92.5 215.8 126.9 156.4 152.9 173.8 168.6 174.8 213.2 150.1 200.2 201.7 128.1 251.7 244.7 166.7 231.3 150.0 103.5 200.1 117.9 258.3 180.0 215.8 157.4 259.3 202.4 184.9 101.4 207.5 169.5 172.8 122.5 287.9 177.0 180.3 92.5 150.0 256.5 187.6 137.8 167.2 94.6 172.5 108.8 186.9 190.6 221.7 184.3 207.8 137.7 187.9 228.6 199.3 124.0 178.7 94.5 167.2 226.0 242.1 189.9 178.7 232.5 287.2 254.9 152.7 194.9 177.5 110.0 222.6 157.4 190.0 92.5 172.0 207.1 200.0 146.6 247.1 115.0 155.3 150.9 171.2 164.7 188.7 161.4 254.2 198.0 157.9 106.3 189.1 110.0 175.2 126.1 175.0 92.5 160.2 219.1 298.4 227.8 177.6 175.9 171.2 157.6 163.8 175.2 189.9 97.7 185.1 130.2 206.2 206.2 151.6 132.9 162.7 108.9 183.6 105.9 189.8 217.8 174.4 132.8 150.7 181.5 248.1 209.9 159.2 154.1 166.7 220.0 167.7 202.4 244.7 186.3 195.3 171.3 235.6 156.2 249.8 203.7 188.0 201.2 200.8 92.5 223.4 171.9 152.1 157.4 295.5 131.3 150.7 176.3 223.5 167.7 163.3 185.8 238.9 187.3 150.0 181.3 263.2 170.0 181.0 232.6 225.8 179.2 236.6 192.3 179.2 146.4 151.7 94.9 191.4 157.0 215.5 110.4 246.9 194.1 307.0 168.2 209.8 161.0 162.6 156.1 236.4 139.2 307.7 110.8 183.2 125.9 284.7 147.9 163.9 174.2 321.6 173.0 212.5 117.7 150.0 175.5 178.4 123.6 172.1 136.9 264.3 112.0 197.9 209.5 234.1 176.4 214.1 156.5 168.3 92.5 150.3 162.9 202.0 125.1 155.4 167.5 224.3 161.6 184.1 163.8 189.2 128.6 164.2 192.6 188.8 171.6 161.7 117.6 185.8 156.1 201.5 115.8 297.5 183.9 150.0 187.3 238.5 133.1 245.6 200.9 161.5 189.9 150.8 224.8 281.8 196.9 218.4 327.8 153.5 163.7 261.3 102.5 246.1 168.2 155.0 186.0 179.7 127.3 163.5 119.1 209.6 174.7 205.0 228.2 228.9 180.0 179.1 220.3 168.8 188.2 151.7 202.7 179.2 110.7 186.6 211.6 214.5 155.9 194.0 270.6 167.5 138.1 213.2 213.3 202.1 203.5 150.1 245.6 179.5 257.3 255.1 155.8 213.3 231.1 175.7 119.0 167.8 211.9 228.5 168.0 161.2 105.4 284.6 92.3 254.6 194.8 160.8 174.1 239.1 166.8 150.0 96.1 169.3 148.0 150.7 188.6 199.1 202.6 214.8 111.3 252.6 202.1 192.6 224.3 176.0 141.8 190.0 92.5 270.5 163.2 173.8 222.3 263.9 269.0 185.5 97.2 215.1 220.7 160.0 92.5 233.1 180.4 159.0 190.9 234.7 154.1 186.7 92.5 154.7 203.2 162.7 173.0 233.3 186.8 158.1 93.2 165.3 199.6 200.1 114.9 237.3 152.7 190.0 110.5 235.9 182.7 150.0 98.5 211.8 199.4 205.9 218.0 194.2 140.7 169.5 130.9 190.5 187.9 202.6 147.9 209.4 181.0 297.6 127.4 150.0 148.4 150.0 151.6 203.9 130.7 234.3 106.0 163.2 120.2 228.1 180.9 193.4 163.1 291.2 119.4 183.4 290.2 184.8 92.5 165.0 213.8 171.8 192.9 150.0 142.4 195.3 100.7 214.9 191.3 246.7 201.4 189.7 227.8 248.8 159.6 308.1 101.3 180.5 120.9 167.1 147.9 163.6 92.5 173.3 181.7 215.7 131.4 251.0 185.6 218.0 141.2 164.9 178.3 196.7 92.5 150.0 180.8 246.3 192.5 262.9 168.8 160.4 124.4 232.7 210.9 178.5 168.4 163.0 105.4 158.2 221.6 169.9 131.3 234.4 168.4 188.4 162.6 185.9 158.4 260.6 196.1 189.7 164.6 202.8 143.3 245.9 126.3 165.0 138.2 231.1 152.5 224.0 214.1 149.6 252.6 227.1 210.9 150.6 135.1 159.6 213.4 207.5 200.0 168.8 92.5 150.0 141.5 165.0 124.8 200.7 112.8 289.8 183.6 205.8 214.2 165.5 197.7 157.5 120.4 169.4 208.0 240.2 111.6 154.7 201.8 178.4 128.4 189.9 202.0 204.3 111.0 228.2 151.2 322.9 126.7 211.9 219.1 211.3 219.3 222.1 199.8 327.5 194.8 156.9 143.5 214.5 125.3 175.8 92.5 173.0 152.4 272.7 157.7 152.8 166.2 183.0 106.9 161.0 232.4 206.1 227.2 293.8 157.8 222.6 190.5 162.0 144.0 157.2 246.2 237.0 191.3 272.0 119.4 153.3 179.7 246.9 97.7 226.6 112.6 243.6 92.7 211.5 196.9 305.1 179.0 165.0 92.5 165.7 194.9 198.2 219.4 204.6 105.6 151.2 209.6 258.1 168.1 184.2 180.9 171.6 232.7 196.0 214.0 150.5 98.6 198.6 92.9 254.6 200.8 186.5 117.5 150.8 196.3 224.2 179.9 182.8 136.3 342.5 147.9 207.2 99.0 221.8 165.4 150.0 144.0 208.4 128.4 248.1 122.2 189.2 219.1 161.4 113.5 215.0 246.0 203.3 152.1 188.5 116.6 194.3 112.8 176.6 92.5 166.4 209.8 193.7 121.7 150.0 185.7 192.1 188.9 231.6 107.5 179.8 210.9 190.9 175.7 196.8 169.0 179.3 186.9 172.5 92.5 162.4 129.5 177.2 94.3 150.0 95.9 236.4 163.9 294.5 241.0 189.1 157.8 211.6 205.4 187.5 131.1 168.7 153.5 315.0 163.1 208.8 241.0 269.8 112.5 332.8 164.4 167.8 145.2 204.0 144.8 295.6 156.7 201.0 214.5 150.0 197.1 258.2 98.3 265.5 139.9 241.6 197.4 182.1 106.6 242.0 203.1 229.9 236.1 272.6 208.6 229.6 105.4 219.0 190.0 233.1 115.3 170.0 127.7 167.0 147.5 191.4 224.3 177.1 138.9 174.7 121.4 188.3 173.3 240.5 186.5 152.0 213.3 151.1 135.8 179.7 217.9 199.3 93.9 194.9 157.9 194.4 92.5 187.3 210.0 228.9 147.1 170.7 181.7 189.3 190.6 213.3 155.5 158.3 237.1 207.6 209.0 267.4 111.6 165.8 92.5 344.1 207.0 193.8 161.1 183.8 108.4 256.6 154.3 226.1 134.5 162.0 145.6 150.0 145.8 338.8 173.7 155.2 171.8 197.0 131.1 291.8 283.4 150.5 164.1 188.0 110.0 212.2 237.4 186.9 144.9 218.9 325.1 184.6 220.7 209.9 239.1 234.8 190.6 190.2 124.2 150.3 235.4 262.4 188.7 197.2 155.4 203.5 200.1 252.8 128.7 204.9 216.8 224.4 149.6 242.9 222.8 151.5 95.4 192.7 172.3 190.6 198.5 193.2 99.7 154.8 206.0 181.3 96.4 275.2 120.0 170.0 232.7 150.4 221.4 187.5 229.5 150.0 198.7 172.0 129.9 234.3 179.5 203.3 180.7 156.5 179.4 150.0 256.3 221.3 151.2 187.5 111.0 155.4 115.7 267.1 123.9 221.9 114.9 220.9 198.2 169.8 213.2 228.6 133.0 177.8 206.7 173.5 146.8 259.6 186.7 288.5 307.8 150.0 165.1 180.8 146.2 274.0 141.9 259.5 139.2 211.4 141.7 190.2 120.3 210.4 181.0 208.5 121.1 197.2 92.5 192.2 190.7 238.4 182.9 194.3 171.0 188.6 230.5 238.0 114.8 285.2 111.5 205.4 191.9 160.0 113.9 240.0 187.0 167.8 163.9 153.2 214.0 183.8 100.6 183.3 92.5 178.1 242.6 151.5 242.4 160.0 92.8 299.8 137.1 195.7 138.1 231.5 171.4 167.0 181.1 207.6 214.1 175.5 122.1 185.3 144.3 218.4 140.0 152.6 212.8 236.5 203.2 232.6 134.2 264.3 172.8 209.1 191.0 260.4 105.1 209.3 173.8 159.5 133.2 310.3 306.5 165.8 158.4 167.9 115.0 220.8 180.9 205.7 218.6 210.7 128.3 209.5 125.8 226.7 101.7 169.9 180.5 204.5 172.6 150.0 118.1 204.6 116.7 193.2 117.2 182.1 210.1 265.9 189.9 196.2 136.4 246.8 144.7 260.9 154.5 255.0 186.4 227.0 113.3 171.9 190.8 212.7 204.8 191.1 107.2 190.6 117.8 162.9 229.4 179.9 120.8 184.6 92.6 170.7 183.9 185.3 196.2 166.8 126.6 177.8 93.1 167.7 205.1 153.9 210.5 215.2 261.1 223.5 181.8 226.1 138.9 200.7 93.1 213.7 221.6 151.0 126.7 183.1 194.4 220.1 216.9 169.6 95.3 192.7 214.8 271.2 111.2 161.6 146.8 171.2 143.8 245.1 159.8 238.4 197.5 191.6 164.3 155.0 157.4 177.8 92.5 175.8 146.8 201.0 164.3 215.0 110.3 237.6 138.8 221.5 110.7 227.2 101.7 198.9 133.8 348.7 229.1 205.2 117.9 259.7 136.3 185.2 124.2 223.1 169.4 191.2 124.7 258.3 207.4 182.1 141.5 172.5 224.0 162.7 215.0 249.5 192.8 310.9 138.8 151.4 151.7 193.0 92.5 192.3 152.5 199.0 163.3 215.0 119.0 251.6 167.7 172.3 154.7 257.8 140.6 240.8 106.0 229.1 92.6 216.9 188.7 165.1 228.6 156.4 210.9 277.9 188.2 204.4 225.7 211.3 182.1 187.2 95.4 173.0 214.8 155.4 169.6 188.2 96.6 251.0 96.3 173.3 92.5 301.8 132.1 250.4 92.9 152.0 176.4 229.3 109.3 185.1 191.9 206.3 156.0 247.6 152.0 197.5 206.7 208.9 157.3 294.9 190.6" fill="none" stroke="none" marker-start="url(#mY)" marker-mid="url(#mY)" marker-end="url(#mY)"/>
<path d="M385.1 125.4 326.6 151.4 282.6 423.8 182.9 318.2 427.4 142.6 423.4 156.5 386.4 186.2 152.6 377.6 377.8 139.0 358.0 148.1 161.2 386.2 199.7 322.1 180.8 387.1 197.7 357.4 419.2 192.5 181.2 318.4 170.7 301.5 437.3 145.9 365.9 208.6 202.0 380.5 299.7 444.4 490.2 173.7 362.6 128.7 232.1 342.6 163.9 381.2 152.1 315.8 202.8 430.9 162.4 443.5 204.0 385.4 200.8 436.2 175.0 329.9 182.9 392.4 202.0 350.0 198.1 430.9 173.4 289.7 354.0 345.7 191.4 397.1 180.2 330.8 151.7 314.4 362.6 118.1 451.9 128.7 154.5 357.1 330.8 149.9 425.4 172.7 206.1 464.6 205.7 306.6 344.5 96.3 270.0 373.5 219.6 367.8 217.3 361.1 426.1 137.3 469.7 148.5 168.1 365.4 421.5 161.8 188.8 359.6 179.4 307.4 284.6 391.4 170.7 355.3 157.8 297.7 158.6 360.6 406.2 181.6 253.3 310.3 167.0 341.4 169.7 377.5 469.7 185.6 150.6 281.2 154.9 357.3 457.8 141.9 176.5 382.7 175.2 382.0 446.6 104.9 333.9 120.5 188.7 334.7 173.1 314.7 349.4 183.6 188.7 367.0 341.4 337.1 169.7 351.7 149.8 422.7 284.8 476.3 157.9 300.7 189.3 336.6 203.0 370.1 346.7 233.8 276.0 357.6 204.1 389.2 186.7 294.9 171.3 237.8 207.2 340.0 420.1 110.2 163.3 293.4 181.9 352.7 179.7 337.3 199.5 336.9 318.9 318.0 352.0 221.2 282.1 425.3 174.4 315.1 391.4 226.7 462.5 207.3 375.2 114.1 152.2 280.1 332.2 130.0 217.3 367.0 410.9 136.6 209.4 399.8 348.0 128.0 219.4 349.0 147.8 301.0 151.8 310.1 398.3 150.9 150.3 302.9 354.7 232.4 160.2 337.9 529.0 236.6 151.5 274.6 189.5 307.4 206.0 389.6 315.0 113.5 167.0 315.1 440.6 143.9 217.3 529.7 175.9 295.7 187.1 330.2 189.4 357.3 153.8 298.1 432.0 112.6 185.9 372.7 427.4 124.7 157.4 363.3 418.1 169.0 197.7 404.0 161.7 377.0 208.4 324.9 149.3 339.7 276.0 346.4 213.6 332.0 349.4 162.4 401.0 114.8 167.6 282.8 373.2 126.1 157.5 351.1 224.2 452.7 194.6 389.2 253.3 374.9 166.4 369.5 197.7 369.1 158.0 381.2 380.8 171.3 153.3 368.0 210.4 420.3 512.4 138.7 245.5 448.4 200.0 363.9 152.3 289.8 529.8 172.9 312.1 117.8 156.0 358.4 422.8 249.6 171.0 400.8 391.7 153.2 438.0 124.7 357.3 130.0 152.8 345.8 190.3 309.9 263.3 264.3 161.7 349.0 397.6 158.5 199.8 311.9 157.0 338.7 353.3 102.9 176.7 401.8 155.2 376.9 197.7 344.2 380.4 117.5 178.1 287.0 172.3 301.3 170.2 338.9 206.2 376.5 389.7 179.6 242.2 328.9 155.4 285.4 212.2 333.3 156.1 341.0 420.8 141.9 166.0 286.5 207.2 281.7 179.7 346.7 369.9 274.5 163.5 397.6 205.1 394.5 165.4 330.5 202.5 299.7 414.8 152.5 271.3 390.1 395.0 198.8 515.9 210.2 151.4 310.9 176.6 371.2 163.2 294.2 151.9 295.6 383.1 134.0 183.3 389.5 252.4 454.1 441.3 173.7 385.7 114.1 399.6 109.5 238.5 364.3 154.3 336.3 387.7 195.5 185.6 301.3 169.2 396.6 406.2 171.7 185.6 374.9 367.9 123.4 355.3 143.2 172.9 304.0 152.6 271.1 166.0 342.6 158.2 278.7 453.9 147.9 201.7 327.1 191.3 372.0 148.5 301.4 182.9 402.9 338.3 556.1 174.8 316.3 215.0 352.9 509.5 208.6 148.0 293.9 153.3 323.5 149.0 282.3 370.1 150.1 408.2 124.7 191.4 411.9 176.6 280.7 438.0 136.6 235.3 361.7 180.8 309.2 250.1 264.8 221.0 273.8 208.3 352.1 197.7 360.4 159.1 353.9 179.3 383.9 155.4 291.8 158.6 311.4 399.0 124.7 191.4 378.6 390.4 134.6 369.2 164.8 289.8 387.4 174.4 348.4 293.1 343.1 434.7 121.4 184.7 381.5 168.1 322.5 250.1 361.7 188.2 359.0 361.9 179.6 461.1 162.4 185.3 443.7 161.7 393.4 351.0 112.2 434.0 201.4 176.6 306.6 196.7 362.7 448.6 171.7 199.8 331.0 212.7 478.5 209.4 381.8 231.1 277.5 152.6 329.3 365.2 161.1 185.0 331.5 153.3 271.1 550.5 192.7 309.0 262.6 190.3 310.3 364.6 248.6 164.4 306.6 164.8 378.4 262.8 250.5 274.0 394.7 318.3 120.8 171.6 316.4 176.0 402.9 390.4 128.7 163.5 373.1 210.4 341.6 168.6 409.3 240.1 385.0 205.1 323.5 187.7 344.7 334.8 112.2 462.4 207.3 319.6 139.0 175.3 374.7 155.4 392.4 173.5 315.5 208.3 415.1 185.0 288.8 367.9 133.3 411.5 177.0 169.7 384.4 310.3 150.5 256.7 458.0 414.8 141.9 584.9 133.5 195.6 405.6 388.4 103.6 148.8 288.7 169.3 321.0 179.7 364.8 469.7 402.0 179.5 358.4 205.1 325.2 369.9 139.9 151.2 279.9 248.5 318.8 185.1 394.6 182.1 352.0 248.0 333.1 232.8 584.9 194.6 372.3 445.3 164.4 318.9 315.1 208.8 358.0 211.5 353.2 270.0 404.6 194.8 419.9 216.8 341.0 194.0 350.0 163.9 299.7 159.6 368.5 174.4 395.5 188.2 282.3 374.2 218.5 300.4 111.5 358.0 165.5 348.0 202.1 272.0 362.3 272.6 343.8 166.2 301.7 214.1 391.3 448.6 186.9 201.8 333.6 150.2 299.6 267.0 394.5 160.2 319.3 150.2 317.1 190.3 321.4 389.7 111.5 149.6 306.6 184.3 321.8 453.9 164.4 205.4 460.7 212.5 323.5 155.7 338.2 301.1 141.7 192.4 328.3 204.6 376.8 158.0 327.3 265.9 533.9 371.6 98.3 304.4 352.4 176.0 362.7 163.9 324.3 353.1 131.6 149.6 320.3 341.4 110.8 469.7 167.1 168.8 297.6 340.8 389.4 194.6 255.3 469.7 124.1" fill="none" stroke="none" marker-start="url(#mB)" marker-mid="url(#mB)" marker-end="url(#mB)"/>
<path d="M232.1 400.8 388.4 366.0 247.5 325.2 455.2 506.7 374.5 349.7 368.5 297.3 327.5 331.9 247.5 324.1 349.4 330.5 424.8 337.8 365.9 342.4 326.2 321.9 387.7 335.2 413.5 327.9 386.4 300.6 350.7 324.6 393.7 307.2 369.9 291.3 410.9 384.8 422.8 310.2 294.5 292.0 341.4 405.9 365.2 325.2 394.3 329.9 379.1 315.3 415.5 307.2 378.5 293.9 390.4 274.5 408.2 326.6 372.5 306.5 412.9 301.2 295.1 270.1 385.1 311.8 425.4 288.0 384.4 291.3 320.9 290.4 404.9 304.5 404.9 299.9 389.7 337.8 352.0 296.6 288.5 266.8 397.0 312.5 383.8 329.2 379.8 328.5 473.5 402.1 241.6 289.7 397.6 313.3 362.6 312.5 284.6 247.6 407.6 384.1 251.2 353.7 399.0 306.5 367.2 303.2 383.1 320.0" fill="none" stroke="none" marker-start="url(#mG)" marker-mid="url(#mG)" marker-end="url(#mG)"/>
<path d="M356.6 327.9 363.3 298.6 349.4 347.7 359.3 364.9 348.7 362.9 343.4 309.8 361.9 361.0 340.8 317.3 352.7 339.1 337.5 313.1 354.0 313.8 334.2 299.2 443.9 406.6 361.3 386.4 359.9 325.2 443.9 413.2 337.5 314.0 356.0 357.0 340.1 344.4 426.1 422.5 342.1 330.5 341.4 323.9 377.8 301.9 369.9 318.0 425.4 341.8 352.7 353.0" fill="none" stroke="none" marker-start="url(#mR)" marker-mid="url(#mR)" marker-end="url(#mR)"/>
<path d="M353.9 702.1 228.2 661.7 541.3 317.1 370.7 705.8 655.7 139.5 243.8 704.3 248.8 722.4 246.7 717.8 254.2 704.7 351.7 702.9 249.3 724.6 246.4 728.5 637.8 142.4 641.0 136.4 156.8 596.8 663.2 138.7 231.0 753.6 671.9 145.1 383.6 587.9 360.4 706.5 366.7 641.0 370.5 519.7 633.8 142.7 231.0 755.0 367.9 520.8 242.3 704.3 373.7 582.3" fill="none" stroke="none" marker-start="url(#mP)" marker-mid="url(#mP)" marker-end="url(#mP)"/>
<path d="M1015.4 228.6 1022.4 158.7 980.9 226.5 979.6 141.4 968.0 103.2 990.8 183.2 1031.7 215.4 1080.1 128.3 1018.1 108.0 1012.8 202.7 1015.0 126.3 1012.0 217.1 1021.5 176.1 1054.2 164.3 1015.4 118.2 1076.1 245.7 1059.7 158.6 1068.3 100.8 1041.9 102.9 997.7 158.8 1073.2 215.9 1021.0 219.3 1106.7 179.4 1003.0 151.2 1024.6 186.0 1036.1 93.2 1076.6 120.8 986.2 203.6 994.7 149.8 1116.7 118.0 1092.7 195.3 1132.1 153.2 974.2 146.1 987.4 179.0 1012.1 174.4 1069.1 101.6 1057.5 158.1 1034.2 121.0 1079.0 96.5 1006.6 208.4 1061.2 101.7 1086.0 159.8 1014.7 101.0 1038.2 252.2 1075.4 160.0 1067.6 164.5 966.5 218.8 981.6 178.3 1096.4 92.3 1052.5 180.5 1026.5 157.1 1070.1 167.8 984.6 123.1 1046.0 130.6 1041.7 201.3 1029.7 161.2 1044.9 109.7 969.2 174.6 1018.0 92.5 1049.4 137.7 981.8 160.0 1133.0 136.4 1076.2 190.4 1019.7 158.3 1023.1 112.8 1017.0 176.9 1054.0 114.0 986.4 93.9 1027.1 159.9 968.8 248.2 973.9 180.2 972.9 230.0 1066.4 180.4 1039.4 101.8 1011.8 165.9 1099.7 204.0 976.2 148.7 998.2 110.6 972.3 235.7 1064.8 104.8 1037.0 117.1 1008.3 224.5 1012.5 92.5 1003.8 180.6 1067.6 162.8 1075.1 147.3 974.4 184.2 981.1 211.9 1060.0 131.3 974.6 126.3 1038.8 96.8 1075.8 151.1 1032.7 112.2 1012.6 222.3 968.8 194.0 1021.9 255.2 1101.5 193.2 1009.3 92.7 1021.9 214.2 1087.9 113.7 979.5 122.7 979.7 130.5 983.2 92.5 1024.3 160.6 1016.0 148.6 1001.4 230.6 968.1 154.5 1012.4 222.9 1018.2 117.9 975.8 92.5 988.5 136.0 1002.3 228.1 996.1 179.1 1018.3 210.6 996.1 223.4 971.3 94.7 999.5 135.3 966.5 121.2 1007.4 212.3 984.3 194.2 971.6 167.6 1035.9 203.1 1020.5 194.1 1110.2 135.3 996.6 94.8 1011.1 224.4 966.5 184.0 1082.7 229.7 1080.6 169.6 1044.1 138.3 970.0 120.5 998.1 105.2 1021.1 181.2 988.0 93.8 1006.5 104.2 999.9 131.8 1013.3 200.5 990.9 101.0 968.4 229.2 987.7 203.6 1051.6 149.4 1068.2 188.3 1038.2 160.2 1003.8 216.2 1058.3 160.3 975.5 155.3 1014.3 156.8 1076.9 151.7 1096.4 147.2 979.6 95.6 1039.3 206.1 1004.6 206.7 1021.3 92.5 969.6 171.0 966.5 123.2 1028.7 119.0 1084.0 133.9 1054.2 106.1 1041.7 207.7 1086.4 92.8 1036.3 161.1 997.2 94.3 1106.3 127.4 968.0 172.8 983.3 93.5 1121.6 186.2 1030.1 146.4 1029.4 213.6 1077.0 99.6 1001.7 192.6 1124.9 145.5 1038.6 188.5 968.8 232.1 1028.8 109.8 1049.3 113.8 1006.7 169.5 1044.3 193.4 1009.0 152.6 1099.7 140.6 993.1 167.3 997.8 263.7 1008.7 168.6 1043.0 149.7 1126.8 165.1 1015.7 98.3 990.6 237.7 1010.4 151.9 1029.6 158.4 1106.3 274.8 994.0 120.0 1110.2 135.8 1002.2 225.8 1052.5 119.2 1069.8 253.2 1024.4 185.2 1031.2 251.6 1025.5 241.4 987.5 182.0 1077.6 180.7 1029.8 206.6 994.7 138.4 973.7 189.0 980.6 108.0 1086.5 108.9 1055.5 124.7 1012.4 195.4 1042.4 190.6 1077.8 92.6 1029.3 118.4 1011.0 95.3 966.5 112.2 970.7 210.6 1022.2 166.4 983.6 180.2 1033.6 97.7 1045.2 200.1 1036.8 163.6 1067.1 174.9 1002.9 236.0 967.8 173.9 1002.0 116.4 968.1 92.5 984.3 136.1 1031.9 93.2 1018.2 118.2 1009.0 107.8 966.5 154.1 1109.6 131.3 1097.0 105.2 966.5 220.2 982.5 200.6 973.1 168.1 1088.5 92.3 970.9 171.1 985.5 154.0 1005.0 92.5 1072.4 154.4 966.9 160.8 996.3 212.4 1025.5 182.0 1106.1 119.6 1000.7 169.5 968.8 145.3 996.0 175.8 1017.0 133.6 1024.1 173.6 967.9 242.6 1082.9 147.6 980.4 181.9 983.2 208.1 967.4 150.6 981.2 104.2 1004.8 96.8 994.1 229.6 996.3 221.8 974.4 205.1 968.2 134.1 1079.8 164.8 995.6 92.5 966.6 259.5 1087.8 223.2 1007.4 134.9 1021.0 110.3 970.4 165.5 990.1 194.5 967.4 191.4 975.0 93.1 1070.6 136.7 986.7 218.4 1011.7 192.7 1015.4 175.0 1046.5 239.9 966.9 153.9 973.9 250.9 1032.1 150.2 974.4 210.5 983.8 193.9 1000.1 177.9 1037.7 116.6 1009.3 129.1 1050.5 148.1 984.4 149.8 997.6 132.0 1001.6 218.1 1055.9 170.1 1011.9 94.8 1096.4 176.9 1136.5 183.6 988.7 123.8 1044.1 173.9 1034.2 134.1 1021.9 133.3 1003.1 247.9 1024.9 175.1 1051.2 136.0 1012.9 96.1 1015.1 125.2 1090.5 227.8 1020.3 92.6 984.9 229.5 1051.6 111.0 983.8 192.9 1105.2 168.7 994.1 129.7 1025.9 221.6 1027.8 102.7 1062.3 172.6 1031.2 201.4 1022.6 168.8 1058.9 93.1 1055.8 114.0 1081.3 129.4 1061.2 155.2 1067.6 97.3 1003.4 217.5 988.9 149.7 1041.6 136.6 992.8 133.7 994.1 137.4 968.4 164.4 1016.1 94.7 979.2 135.6 1071.9 165.6 1018.5 215.1 990.6 200.0 1024.7 161.4 981.4 216.1 966.5 149.5 1103.0 235.1 1011.9 100.6 982.9 176.3 1011.0 121.0 1015.0 114.1 1025.0 193.6 1074.9 150.9 985.8 130.5 1003.4 210.3 1109.5 180.5 966.5 230.2 1035.3 150.4 1020.5 96.8 1000.9 167.8 1015.6 94.9 1010.4 92.8 997.7 103.3 1014.5 116.9 1033.8 189.7 989.8 150.0 1049.4 210.4 992.1 101.1 1018.2 98.2 1004.0 209.3 1050.1 190.5 982.4 190.9 966.5 221.2 1124.2 139.3 1019.9 126.2 966.5 137.9 974.9 152.1 1014.4 183.6 1038.6 93.4 1072.3 183.1 1007.9 112.5 967.7 148.7 1085.3 108.2 1063.0 107.5 1017.3 103.7 1017.4 167.9 1005.0 175.7 1027.1 166.4 1012.0 212.6 989.2 127.3 970.2 132.4 976.4 152.4 1056.1 199.3 1018.9 212.9 1058.2 136.5 1046.3 92.8 966.5 122.4 1095.1 122.1 1070.0 117.7 985.7 158.2 968.4 106.2 1069.2 165.5 1020.0 92.5 1065.2 93.1 992.7 195.3 1000.3 98.2 966.7 104.2 1071.4 169.2 1008.2 164.3 1109.6 141.3 990.2 188.1 1012.3 148.5 999.4 228.1 1029.0 103.6 982.4 147.8 1075.6 156.8 1046.7 208.5 1087.8 169.7 1143.4 265.5 1004.3 191.3 1074.0 159.7 1059.3 144.8 1010.0 92.5 1000.2 197.1 1026.0 158.3 984.2 92.5 983.0 92.5 995.4 140.9 1042.8 209.2 1069.6 126.3 1125.8 102.4 985.5 215.0 971.0 208.6 989.4 177.9 1065.6 193.1 1041.9 168.3 1071.4 155.4 1006.7 133.3 986.5 186.2 966.5 195.6 1043.2 141.9 993.6 133.7 998.4 135.5 1051.3 112.0 1000.3 255.8 1062.5 174.9 973.7 92.5 1062.3 161.3 968.8 164.2 968.1 244.1 1000.0 205.9 988.1 132.4 1060.2 155.0 1015.6 92.7 1043.3 237.9 1138.7 157.8 1002.3 221.8 1013.9 211.3 992.3 181.7 1090.4 150.1 1010.4 106.7 1015.3 196.2 972.2 100.7 1059.2 147.9 1018.5 236.7 983.5 173.3 974.1 224.8 1045.4 233.6 1071.1 169.8 1014.0 118.4 1113.0 254.3 1014.7 115.3 985.0 178.1 977.3 96.9 1091.5 181.4 973.6 108.5 1026.9 135.3 976.5 144.0 1058.2 148.5 1018.3 108.8 1016.8 213.2 1032.7 206.3 973.8 110.4 988.5 186.1 985.3 96.1 983.9 183.2 1104.2 92.7 968.1 106.6 1097.8 114.5 968.0 173.7 1004.2 109.6 1004.8 160.8 999.3 242.9 999.7 92.5 966.5 206.5 1114.9 149.0 1093.8 266.2 991.4 200.0 1106.3 216.6 1053.1 130.4 1009.5 99.3 1054.0 171.1 1005.8 134.1 988.9 194.1 1078.5 167.4 1037.5 176.7 1033.8 245.2 1023.1 152.7 991.6 93.8 994.2 205.6 972.5 167.6 968.7 185.8 969.6 183.6 981.2 108.2 1058.3 179.1 1078.4 124.1 981.3 221.9 1064.0 111.2 966.5 252.3 991.7 224.4 1123.2 161.0 1034.4 138.3 1000.8 169.8 1045.3 119.9 970.9 97.2 967.8 131.5 983.3 259.0 981.7 126.4 1038.1 183.1 1019.6 162.9 1023.2 114.1 971.0 110.0 1014.3 242.6 1102.2 150.3 1083.2 152.1 992.6 109.7 1019.1 177.9 1039.3 148.8 1053.5 133.2 1036.8 219.2 1088.1 109.3 988.9 215.8 969.3 124.5 966.5 206.9 1005.8 221.1 1010.5 92.5 1026.9 180.0 1002.0 92.5 1003.9 148.2 1066.9 168.7 966.5 111.9 967.2 104.4 1051.8 182.5 1000.9 102.2 1032.4 169.6 1084.9 110.5 1130.6 185.0 986.4 146.1 1054.2 129.9 1018.2 92.5 1108.3 239.1 984.9 131.5 1028.6 194.7 988.8 154.6 999.4 177.8 1010.6 229.4 966.5 196.7 997.6 137.4 1034.4 134.7 1118.9 253.3 1012.0 171.2 981.6 144.2 968.8 93.2 1054.2 125.7 1018.2 137.7 983.0 188.5 1076.4 204.4 985.2 141.0 1049.3 101.2 1032.9 126.6 968.8 204.2 1026.2 164.8 995.9 203.5 985.4 248.7 1066.2 116.8 1015.5 151.9 969.7 136.3 1018.8 218.7 1037.2 160.2 1009.6 144.8 998.8 149.2 1069.9 195.3 1028.1 151.2 976.4 127.6 966.5 128.6 967.4 92.5 1068.9 155.6 1078.3 114.8 1006.7 92.5 966.5 95.5 976.5 206.6 1015.4 246.9 1051.4 206.2 1072.0 185.1 1036.0 128.4 1024.7 162.5 1005.5 117.9 1079.9 99.8 1018.1 176.5 1026.2 222.3 969.5 217.4 1056.5 157.0 1136.1 209.7 1050.2 205.7 1031.7 97.0 976.6 94.9 1015.4 102.4 974.9 220.2 1041.1 157.8 1036.5 177.2 1128.8 135.0 979.7 129.9 967.7 189.6 1076.5 108.6 997.4 202.3 997.8 132.4 1008.8 151.6 1022.2 226.5 1061.4 109.1 1066.8 113.1 999.9 145.7 1090.3 121.5 997.0 192.5 1031.3 156.3 1045.5 196.1 1015.9 96.8 1033.8 167.8 1058.2 157.3 1012.4 103.8 1014.2 207.4 1073.9 191.7 1142.6 126.7 972.2 178.7 1062.9 123.4 1004.8 165.3 989.0 222.5 988.6 159.7 1017.2 197.5 1041.2 177.8 1038.3 175.3 980.4 266.4 1087.1 107.4 1012.6 176.9 1131.5 208.0 985.4 199.4 1043.7 180.1 979.0 92.5 994.6 108.0 995.4 199.8 979.2 120.2 994.3 111.6 1002.9 93.5 1015.0 184.1 997.0 144.0 1005.2 216.0 1069.0 185.8 1035.4 180.9 975.0 92.5 1029.0 152.4 996.6 239.3 1017.1 225.2 999.8 131.2 987.7 125.2 1031.1 168.0 976.1 92.5 1067.8 130.5 1074.0 137.9 989.8 119.1 1006.7 203.0 1014.9 93.7 974.1 134.9 1012.4 103.3 1021.7 110.8 1003.8 209.7 1011.6 118.5 996.3 146.7 1055.2 161.5 1038.3 203.5 975.4 94.2 968.0 211.4 1014.2 140.9 997.5 118.6 1019.0 211.3 1025.2 165.1 966.5 225.5 1087.6 129.1 991.0 234.0 966.5 190.8 968.2 156.0 1038.3 120.2 987.7 162.8 1012.7 100.0 1079.6 192.1 1010.3 179.9 1014.5 111.2 1045.5 111.5 1002.5 157.6 1088.2 105.0 1068.9 125.2 1070.2 179.5 1004.7 263.2 1052.6 145.0 1060.0 176.1 1079.3 203.3 970.1 127.4 986.1 104.5 1087.0 154.6 987.5 130.8 1016.6 199.1 1071.4 168.5 1043.6 193.0 1067.8 141.9 975.3 223.3 1012.0 92.5 974.3 102.7 1039.2 155.2 1005.5 94.6 997.7 131.5 991.8 192.5 972.5 223.5 1019.9 92.5 968.5 124.0 1081.1 118.0 1002.9 126.3 1005.8 132.8 1008.4 182.2 1065.8 96.1 1055.5 183.0 974.0 92.5 1005.3 113.6 989.1 213.8 1012.2 163.8 974.3 175.4 980.2 93.2 1021.4 96.8 1016.2 92.5 1091.4 149.2 993.0 174.8 1034.9 143.7 997.7 109.6 1024.7 101.8 1040.7 142.8 1021.5 176.2 1091.8 181.6 998.9 217.6 1037.6 160.8 1049.4 183.2 1025.0 256.9 1028.2 119.0 1065.9 192.7 1060.6 162.9 986.5 139.7 1057.9 148.1 985.0 148.8 966.5 224.5 1031.9 195.8 1004.3 232.1 1041.5 124.3 1041.0 168.7 1078.5 93.3 1000.0 130.3 966.5 121.8 967.1 242.0 1008.8 93.2 1044.8 194.9 966.5 215.1 1036.5 100.3 966.5 195.7 983.7 130.5 1023.4 150.2 968.6 183.1 1017.7 139.0 1059.5 166.3 969.8 120.5 1065.6 143.8 972.0 143.5 1069.2 187.1 1004.3 109.8 979.4 105.9 1074.0 160.7 1030.9 131.2 1012.4 228.6 1011.3 211.1 998.5 114.5 1013.1 180.0 1044.5 122.4 1030.1 112.6 990.0 115.3 1078.6 109.1 966.5 258.3 972.3 102.0 1132.8 221.9 1056.7 137.8 1088.3 131.4 1009.1 139.4 1143.4 165.7 1046.9 139.4 986.7 170.0 1096.9 105.0 975.6 219.6 966.5 161.8 1061.0 113.9 1026.1 178.1 1007.7 128.8 977.2 147.7 1043.4 117.9 1009.3 220.6 1024.6 128.5 980.8 135.5 968.8 94.4 966.5 145.4 977.1 93.1 1061.6 195.5 1019.7 195.2 1011.8 214.3 1047.0 139.9 1079.4 138.1 1004.7 204.6 1018.3 134.0 1004.8 190.7 1004.0 142.2 1029.2 116.3 1001.4 226.0 1023.8 92.9 1010.4 180.7 982.9 228.5 1066.2 145.0 1099.6 122.2 1087.2 106.9 972.0 221.8 1029.5 111.5 994.6 92.9 966.6 115.8 1042.7 159.9 1095.0 180.8 1012.6 147.9 1144.6 120.1 1011.4 120.3 1019.4 202.8 1037.5 219.0 966.5 213.3 973.3 113.4 1032.0 104.3 983.8 204.7 1017.4 156.3 980.8 121.2 1050.7 130.4 1016.5 219.1 967.2 253.7 966.5 177.6 1008.7 122.1 971.6 160.6 1042.4 178.6 1063.0 174.0 968.9 223.0 987.4 138.0 1011.8 223.8 968.5 102.8 1029.9 182.9 991.4 227.2 1009.2 149.1 1079.2 120.5 1033.0 219.0 1019.2 104.7 978.7 183.9 1046.4 142.5 993.3 224.3 1030.9 196.2 1037.8 201.9 1094.2 173.1 983.4 104.4 1140.7 123.4 1076.5 162.3 977.8 111.8 970.3 210.6 1001.1 140.2 1086.6 186.1 1022.5 212.1 988.9 92.8 966.5 178.2 1032.0 157.5 988.9 113.6 1006.1 145.9 976.3 130.1 984.4 104.0 1004.1 237.9 1000.2 140.5 1045.7 138.0 1004.0 246.9 1052.0 153.5 1054.9 143.5 989.0 182.7 982.7 241.5 1023.7 210.9 1076.4 138.2 974.8 208.8 1000.1 160.5 1042.7 127.5 982.4 132.1 966.7 130.1 1008.7 92.5 1011.1 220.8 1095.3 124.2 987.7 208.4 1010.6 107.4 1005.9 185.8 967.0 232.6 990.1 116.9 1021.5 123.7 969.2 208.0 1064.1 117.4 969.3 138.7 1080.6 134.2 983.7 130.6 1055.5 255.3 1077.4 98.1 1082.7 184.5 1106.8 188.2 1033.0 222.8 975.6 140.4 1043.3 178.6 1119.4 149.7 971.2 115.2 1022.2 160.7 992.8 184.8 1055.5 154.1 983.7 206.1 974.8 92.5 966.5 111.6 994.9 122.2 1002.4 188.3 1010.7 133.5 975.9 158.7 996.6 92.5 993.9 210.7 1006.9 227.1 1022.2 290.2 1005.4 153.1 970.4 230.4 1002.3 192.9 1045.3 162.6 1017.9 133.8 973.5 234.6 1040.2 101.3 1032.4 217.6 1048.4 138.6 993.9 231.9 1061.4 169.7 1007.8 177.9 1020.8 226.4 1048.0 137.9 987.9 230.4 987.7 122.0 1001.0 107.0 1029.1 100.2 1018.4 146.4 991.0 92.5 1004.8 219.5 994.8 130.6 1025.7 142.4 1000.3 92.5 980.7 112.5 1005.9 161.1 1053.3 154.0 1144.0 189.5 1002.4 205.8 1086.5 128.7 1034.4 136.3 989.7 186.6 1015.1 173.3 982.1 143.5 968.4 216.2 1000.4 219.2 993.4 215.2 984.2 150.8 1076.2 189.4 1036.0 201.6 1027.8 115.8 1025.2 115.2 1043.1 147.4 1068.2 161.4 1059.5 152.5 1083.9 173.0 1045.6 164.4 976.9 158.8 1028.5 166.4 1054.4 103.8 1065.2 197.2 1066.9 204.5 1059.7 102.7 1024.5 140.0 1050.2 142.0 993.5 163.5 993.8 104.3 1017.8 147.3 985.9 111.0 1056.0 162.0 967.1 242.0 1068.4 162.8 990.8 164.7 1084.4 144.8 1051.0 202.2 1014.0 94.0 1049.6 166.7 995.3 182.6 994.2 119.4 966.5 182.0 1025.8 107.0 973.6 123.9 1051.6 179.3 1055.8 138.1 1070.3 139.2 984.2 147.0 990.6 136.0 1082.6 182.1 1080.7 119.5 1058.7 242.6 991.6 121.8 1023.3 113.5 966.8 229.0 966.6 210.0 1022.9 198.5 1029.0 233.0 966.5 214.7 1039.4 101.5 1005.9 156.9 1070.0 172.8 991.3 183.3 1124.4 128.4 1012.6 92.5 1020.1 178.5 1035.1 160.0 1008.0 250.2 973.3 225.8 1006.7 155.0 989.7 94.3 1081.3 142.8 998.4 174.0 966.6 122.4 991.0 218.7 1059.6 109.4 985.6 111.5 1042.1 127.4 1030.2 216.0 1061.9 185.7 1039.7 201.7 1001.8 194.2 966.5 125.6 1062.2 133.6 1120.2 132.7 1086.0 128.3 987.8 117.4 1099.1 169.7 1026.2 202.8 979.2 199.9 1005.6 197.8 1060.7 179.5 1012.6 105.1 1051.7 201.9 1040.7 117.2 1022.1 163.1 1022.1 166.7 1007.5 179.8 1079.2 148.3 1009.7 191.4 1037.9 173.2 1013.1 216.7 1010.2 169.5 1012.3 133.3 970.4 193.8 966.3 226.5 1014.9 182.5 999.2 239.8 1014.4 92.5 1006.7 164.0 1012.6 182.3 1011.9 125.3 1036.5 216.9 1036.4 134.6 974.3 248.8 1074.7 136.0 1129.5 234.4 966.5 104.7 1075.2 100.9 988.0 126.5 984.3 92.5 1039.6 204.9 1084.0 168.6 995.8 104.3 1003.4 118.9 1019.2 115.6 1049.4 112.3 1071.2 192.9 982.3 173.7 1093.5 115.3 1029.1 205.1 966.5 103.3 986.2 126.9 967.9 212.7 997.8 101.6 978.6 162.2 978.5 92.5 1039.2 157.8 1029.9 192.0 1044.4 188.6 1069.6 194.6 1061.7 145.9 994.5 92.5 998.6 118.4 1002.8 92.9 1044.1 156.8 1011.1 110.4 1012.4 132.2 991.0 92.5 996.9 100.3 997.5 205.8 997.9 219.9 1117.6 232.4 1084.1 232.5 979.3 147.8 1056.8 146.6 1067.4 126.0 981.7 186.9 980.3 168.0 1009.7 180.5 1071.3 147.9 980.7 137.3 1004.4 98.8 1030.5 170.2 1065.7 100.4 1050.2 181.9 1018.3 183.1 1036.6 145.9 1032.0 132.0 981.8 129.8 1017.9 152.1 966.5 94.9 1085.3 93.3 1020.5 162.8 968.7 100.1 1071.4 123.3 1038.7 136.5 1005.8 214.8 1013.6 127.2 1107.4 119.2 1041.1 237.4 968.0 187.0 1015.8 160.1 1060.9 93.2 972.4 165.1 1008.6 98.8 991.8 171.4 982.9 136.9 1041.2 180.2 968.4 165.7 1059.5 127.6 1033.4 197.1 1018.5 116.4 1072.9 113.5 986.0 172.1 967.1 151.9 997.0 145.8 986.3 142.6 985.8 115.6 998.8 159.4 982.1 92.5 981.2 92.5 968.5 99.7 1008.5 148.5 1009.4 207.7 967.5 110.9 1019.7 207.9 1066.3 200.5 975.3 184.6 1009.7 95.5 1050.7 169.0 1037.4 158.7 1068.1 103.1 1005.8 286.5 1006.4 107.7 1005.5 101.8 1014.6 106.8 988.3 268.5 1005.2 215.2 986.4 217.8 1016.0 105.6 988.2 200.3 980.3 199.1 1043.7 124.9 1047.0 216.3 1105.0 261.5 994.5 144.6 1059.5 198.4 1081.4 149.3 1023.7 143.0 1017.1 214.8 1021.8 150.9 1051.1 118.7 1029.7 256.7 985.0 181.8 998.5 136.7 1001.2 137.7 1005.0 194.9 1041.0 154.2 1116.3 206.6 1019.7 210.5 1040.4 187.1 1043.5 193.7 1015.7 230.8 1073.7 176.6 1025.5 216.7 986.8 145.2 1061.2 130.7 1031.8 188.3 966.5 128.3 976.2 194.7 1017.1 137.9 967.9 92.5 1004.3 95.0 1050.9 201.5 1063.6 140.9 1022.3 182.4 1074.0 139.8 1078.5 138.1 971.4 229.0 971.2 127.3 1039.1 123.8 979.5 211.2 972.3 173.0 966.5 203.2 1069.2 122.6 1044.9 165.1 1019.7 137.7 1020.9 127.7 1039.6 104.5 1017.6 148.0 1020.9 223.2 984.0 128.4 966.5 207.0 1034.9 213.3 1013.8 113.6 1053.0 114.5 979.8 221.2 1054.5 106.3 967.3 136.1 1011.4 96.6 991.2 201.2 992.3 139.4 1029.5 206.2 1006.9 114.5 966.5 217.9 994.7 230.4 986.3 212.8 1086.9 154.5 992.0 246.3 1057.7 141.8 972.3 130.6 996.4 170.7 1072.3 188.8 1075.4 99.2 1010.2 245.7 992.6 202.7 994.5 183.3 1048.3 148.0 1003.9 104.6 1030.9 248.1 966.9 161.0 984.2 177.2 1003.3 165.4 973.9 165.3 991.0 97.4 978.8 107.9 1024.9 135.3 1039.9 178.5 1054.1 170.4 987.8 127.3 973.8 109.8 969.2 94.5 1108.0 175.8 1014.6 229.6 970.8 127.4 968.1 247.9 972.9 92.6 1023.9 131.4 1030.5 195.4 1073.5 190.4 970.8 99.5 1065.8 189.5 1058.7 119.5 995.0 95.9 1025.7 160.6 983.0 225.7 1020.1 110.6 1008.1 149.2 973.8 121.8 1027.1 197.6 1038.7 122.9 1050.9 137.7 974.9 107.4 972.2 120.0 971.6 190.7 990.1 182.6 1012.7 115.9 1067.7 141.5 1058.9 92.6 1007.4 218.5 992.2 114.1 1027.3 140.7 980.8 187.1 1006.3 112.4 974.9 164.7 1009.3 181.5 1022.7 232.5 997.9 226.5 994.5 212.7 967.2 109.2 1000.4 231.5 1015.1 98.6 984.3 172.4 1011.7 92.5 985.2 193.4 1006.1 214.9 1075.1 128.2 1003.7 196.4 1025.2 164.3 991.0 123.3 1021.3 164.2 987.8 93.8 978.1 179.6 981.2 223.5 990.5 151.5 977.2 221.7 985.6 129.6 1028.1 203.2 1007.9 127.6 1040.1 155.5 966.6 234.6 1088.6 142.3 979.5 176.1 1002.3 136.1 1072.8 122.0 1051.9 126.0 1138.7 119.4 1066.2 156.0 974.1 149.4 973.7 120.1 989.9 102.1 978.9 212.8 1028.0 151.1 999.9 250.5 966.5 124.4 987.9 193.5 1105.0 288.0 1123.5 207.3 975.4 252.3 1093.8 108.9 1013.6 101.5 1044.3 135.9 984.3 130.1 1143.4 144.6 1046.4 131.5 994.1 191.1 983.5 176.8 1014.4 233.1 1077.8 109.0 1065.8 111.4 1060.4 92.6 967.5 252.7 1017.6 133.5 986.7 166.2 994.6 166.8 1019.2 169.3 984.9 134.0 1140.7 284.0 1035.7 113.3 1013.8 209.3 1121.6 119.4 1088.5 130.0 977.4 186.9 1001.7 96.7 996.7 185.7 987.7 118.5 1009.1 92.5 991.2 211.3 1088.2 101.1 1067.6 98.6 990.5 92.5 1017.9 122.7 1057.3 147.5 1017.7 164.2 978.4 95.3 1053.1 221.2 995.5 114.9 1023.6 212.1 1051.4 136.5 996.9 154.7 971.4 92.5 1022.9 210.6 965.5 277.0 967.1 123.3 1018.9 106.9 968.6 147.2 967.4 106.1 1072.0 171.2 982.8 211.6 1009.4 106.8 968.5 148.8 980.8 168.1 1081.4 190.4 992.5 137.6 1099.0 131.3 1051.8 210.1 1015.9 208.4 1069.6 107.8 1048.0 203.3 1006.2 118.6 1058.4 182.5 1074.5 114.7 1030.9 166.3 1020.8 221.5 990.5 152.7 994.5 196.7 1070.0 210.1 987.9 137.7 977.8 186.7 1042.3 187.3 966.5 137.2 984.9 225.5 1009.6 157.5 1049.4 160.9 1050.3 154.4 989.3 109.8 970.0 156.3 1062.4 102.9 1067.5 110.9 1048.6 163.2 981.9 92.5 1014.6 166.0 1131.5 186.2 1004.9 98.9 975.6 166.8 998.9 204.3 1002.7 203.5 1038.9 122.1 972.7 189.3 1088.4 107.4 996.8 123.3 1084.9 116.4 1002.9 136.0 1001.5 132.3 985.3 227.8 992.5 139.6 1052.6 161.6 972.3 185.3 1072.9 143.5 990.7 162.4 980.9 92.5 1018.9 132.1 1016.4 92.7 1074.8 131.6 1018.0 203.5 1012.7 198.1 967.3 106.3 1018.4 106.0 1003.3 122.1 1019.5 92.5 1100.1 153.4 1108.3 195.5 980.0 102.2 1016.9 93.4 1011.5 195.7 975.3 95.2 972.8 92.5 997.1 149.8 995.7 139.9 1045.7 212.5 1033.4 258.2 1115.4 135.9 978.8 92.5 982.5 192.9 974.9 117.2 1075.1 133.8 989.3 174.5 999.0 93.2 1095.5 196.3 1004.6 151.8 994.1 204.3 1017.0 131.8 1035.8 97.3 1060.1 185.1 972.7 188.6 969.9 152.5 976.4 202.4 1006.4 240.6 1000.7 98.2 984.1 155.2 1027.4 152.9 1075.5 175.3 1007.0 212.9 1070.7 189.5 1023.0 149.1 977.1 93.2 984.2 195.9 966.5 165.7 1038.7 107.3 986.7 150.3 968.1 228.3 1028.9 167.0 981.7 162.8 1043.4 102.5 1004.1 164.6 976.1 194.1 1025.3 148.2 1022.7 163.6 1061.7 137.5 988.1 128.0 1046.8 110.3 1025.2 176.2 966.5 109.8 1063.1 211.2 1000.0 99.0 1029.6 98.3 992.1 138.0 1018.5 166.5 1012.3 212.2 1005.7 94.7 1006.6 217.1 1135.4 126.1 978.4 246.6 1000.0 255.3 986.8 102.7 1033.3 210.3 1068.2 156.9 1000.2 92.5 992.0 163.2 1012.9 97.5 991.8 120.0 978.1 152.3 1132.5 104.9 971.1 92.5 985.3 105.2 998.5 223.6 1001.8 157.7 991.3 136.5 1076.2 179.9 971.7 188.3 1048.9 99.9 966.5 99.2 981.9 257.0 1126.8 226.5 1058.9 162.2 992.9 123.8 970.5 147.7 1021.7 184.6 1014.8 117.1 1014.1 185.1 1009.6 187.8 1004.6 115.5 1029.9 130.6 985.1 134.6 975.9 94.5 1043.8 192.0 994.1 117.1 1040.4 105.9 1046.7 201.1 996.9 204.4 971.8 148.0 1039.9 215.4 995.5 190.0 1043.5 136.8 1019.8 169.4 966.5 227.8 987.7 192.0 967.1 125.5 1048.8 158.8 1075.6 125.1 1006.4 132.4 1120.6 92.3 1012.3 101.6 1069.1 129.7 1140.7 266.2 1005.1 152.6 966.5 152.7 1005.8 92.6 992.3 142.1 1039.1 203.1 983.8 234.1 979.5 104.3 1019.3 183.4 983.8 141.9 982.7 94.0 1115.6 274.1 1075.8 179.4 1017.3 92.5 1047.1 128.0 1036.9 169.0 1074.5 151.8 1047.6 190.7 991.2 218.1 1014.6 221.9 1014.4 117.3 977.0 204.5 1092.7 145.2 979.8 148.8 1117.6 197.5 991.4 161.2 1067.1 105.4 1037.1 105.7 1036.9 112.7 973.5 252.1 1052.2 141.0 1028.5 199.0 991.3 143.0 967.2 223.3 1017.5 93.7 1034.1 238.8 976.1 157.1 980.3 246.3 1023.6 111.3 970.2 119.7 967.0 94.0 1127.5 266.8 1020.6 94.4 968.8 145.8 1022.8 201.8 1073.7 176.1 983.2 229.3 1040.0 250.6 994.9 184.2 984.4 92.5 1005.3 231.7 977.3 230.2 993.1 270.1 978.2 232.0 1038.4 122.9 996.5 107.4 1145.0 135.8 1078.4 189.7 1053.6 153.2 1023.6 195.5 990.6 142.4 985.1 118.7 1032.4 119.0 966.5 123.2 1134.8 230.5 977.6 167.6 985.1 133.9 1029.4 154.5 1009.1 143.3 1039.9 189.4 1035.3 186.4 1113.5 124.7 966.5 182.7 1021.3 92.5 1019.0 217.6 1082.0 172.8 1016.2 217.6 966.5 135.8 1060.5 106.7 1031.4 190.6 1071.8 103.9 1036.6 176.0 1008.1 92.5 1054.8 161.4 1060.3 114.2 1017.1 166.9 1114.7 100.9 1109.6 131.2 987.0 139.9 998.3 210.5 996.1 150.5 994.6 177.9 996.7 98.1 966.5 187.9 1025.0 226.8 979.5 244.3 967.4 136.9 1015.0 167.3 1043.6 204.6 1065.5 155.5 1071.6 158.2 992.0 104.9 996.9 145.5 992.3 168.5 984.8 154.3 1075.6 181.8 1036.3 214.4 1020.4 205.1 977.0 92.5 986.0 161.6 979.1 101.1 1081.9 128.4 1000.8 194.7 1031.3 220.3 1040.7 102.2 1042.4 198.4 1002.2 176.6 986.9 92.5 967.1 153.1 967.2 96.9 1070.5 183.5 1080.4 178.0 969.1 170.9 1082.8 190.5 981.7 103.3 1045.7 192.1 977.3 98.7 1031.5 107.8 975.1 145.6 1028.6 113.2 999.0 137.9 1087.1 104.9 982.6 138.2 1000.3 129.6 991.0 150.5 966.5 192.3 1044.3 168.5 1115.6 159.1 1003.4 111.4 1067.7 154.0 1079.6 180.2 991.3 184.0 1043.5 183.5 984.2 102.5 1005.0 172.6 1007.5 92.5 993.9 112.1 1018.2 190.4 1078.8 147.7 974.6 143.3 976.9 181.1 1033.8 172.5 1005.0 196.9 1035.2 109.9 971.1 208.8 984.0 115.4 1002.6 136.6 966.5 212.4 1060.3 135.2 1041.8 213.8 1014.7 164.9 981.2 176.8 1062.0 195.7 1010.0 170.3 982.5 194.3 997.1 123.1 966.5 184.2 975.6 196.2 971.6 212.2 973.7 189.8 1041.7 206.2 995.5 182.9 968.7 218.7 1038.1 206.0 1006.6 99.2 1020.4 92.5 1050.3 194.2 976.3 156.0 986.4 202.9 966.6 92.5 967.1 176.7 968.3 129.8 1071.7 117.4 1093.8 162.4 1077.0 150.3 984.1 134.1 983.7 96.0 1030.9 184.9 1093.1 148.0 987.5 207.4 982.5 239.9 979.8 134.3 1002.8 115.8 982.7 127.6 987.0 181.5 1079.1 115.5 1015.9 132.5 980.1 95.3 983.3 210.8 1045.9 188.8 974.9 149.4 1023.2 121.0 1016.5 121.7 1061.7 167.6 1001.5 173.9 981.8 145.4 967.2 93.8 969.8 97.9 1028.8 96.0 1036.2 126.2 993.0 153.1 1018.3 118.7 973.0 93.0 968.6 196.7 1048.5 165.2 1054.5 116.0 967.3 251.4 988.4 155.0 1049.7 288.6 1095.1 198.1 1035.1 185.3 1000.7 224.3 1010.6 169.6 1045.9 177.3 997.1 174.1 1045.6 237.0 1011.6 172.8 1043.3 201.0 969.8 125.4 1014.4 92.5 1026.7 214.1 1029.4 198.5 1038.3 204.5 1121.8 173.1 972.6 98.4 1006.7 93.6 1043.2 200.5 981.2 145.6 1026.8 126.7 1015.0 101.6 996.3 92.5 1017.8 194.1 966.5 117.9 971.6 168.4 1042.7 123.8 988.5 149.6 1075.7 142.5 983.8 214.2 1044.0 220.5 1009.7 172.0 1084.6 147.7 995.4 188.0 987.4 97.1 983.0 99.6 1006.7 128.7 1054.6 179.8 987.8 215.2 1034.5 188.6 1113.6 180.0 1036.0 255.0 989.7 210.8 1015.4 104.7 1010.2 128.9 1128.1 114.8 1005.7 188.1 1004.5 251.6 1036.2 190.7 1019.2 92.6 988.8 227.9 1022.6 169.4 1118.2 126.1 1019.3 92.5 1069.3 250.5 1036.9 197.8 1036.7 191.7 1086.6 145.2 1032.9 218.2 971.8 222.7 1021.9 126.2 1003.9 134.4 1060.6 174.1 1062.7 114.6 1038.9 177.2 1012.4 114.3 1009.2 142.6 1085.3 126.2 1009.4 124.4 976.7 128.1 975.9 163.7 993.5 105.9 1020.8 147.8 1031.4 133.8 994.8 207.4 1036.5 99.8 972.4 149.8 976.0 100.8 1012.1 103.8 1021.5 113.4 1062.2 219.2 1009.6 103.7 1062.6 99.6 984.7 110.5 1016.4 107.9 970.8 115.7 977.3 201.2 1038.9 104.2 1006.4 97.8 1020.6 124.3 1026.8 178.9 985.0 110.0 984.4 231.0 1069.8 119.4 1005.9 168.9 1036.8 127.7 978.6 224.5 1084.6 155.8 1004.5 180.5 1061.5 150.6 1063.9 93.3 971.6 186.9 1068.3 196.9 985.1 100.7 977.7 92.5 1103.7 218.5 981.2 121.3 1034.9 107.4 984.1 172.9 966.5 115.1 1009.3 145.0 1002.4 125.2 982.6 104.5 1019.0 253.2 998.5 198.7 969.3 188.1 1040.1 115.6 1012.5 104.6 975.1 118.2 968.6 214.7 1060.2 103.6 1082.7 171.4 1004.3 207.5 970.6 110.6 977.0 186.2 1029.9 114.7 971.1 230.4 1018.1 223.0 1002.5 189.1 983.4 145.4 1012.3 157.5 978.8 163.9 1057.7 161.6 966.5 185.8 975.1 214.4 1025.9 169.1 1026.4 202.5 997.2 151.5 1060.0 103.9 969.4 120.9 966.5 229.0 990.8 162.5 1019.7 174.8 1041.6 156.1 995.0 158.1 983.9 157.5 994.9 222.3 966.5 247.5 1018.1 124.9 1018.1 159.5 1042.5 200.1 989.3 130.4 976.3 159.7 966.5 185.1 966.5 132.8 966.5 192.2 975.9 139.9 997.3 93.7 1089.5 150.9 1018.0 199.0 1026.9 254.2 1012.7 173.9 1024.7 108.3 993.2 149.9 1047.0 162.3 992.9 157.9 1027.8 215.8 1017.1 159.8 978.9 149.1 966.5 160.3 1036.2 164.7 1087.2 121.9 995.9 204.1 1000.7 212.9 1037.0 214.7 996.7 92.5 1063.5 143.4 986.3 122.5 1037.3 145.5 996.2 106.0 986.9 166.8 1041.9 153.2 1003.3 108.8 976.4 193.4 1039.4 217.4 981.6 187.0 1079.7 163.0 973.7 123.2 1049.3 145.3 980.3 132.4 987.1 213.3 983.4 176.8 1074.8 92.9 1015.5 146.4 999.3 201.3 1007.1 225.1 1032.2 164.6 1047.1 152.6 992.5 232.9 968.4 193.6 999.6 158.1 1063.7 210.6 1024.3 171.1 1017.8 173.7 1009.7 136.5 1109.1 120.0 971.9 123.6 1085.7 124.5 1073.8 171.2 966.5 246.1 998.5 148.3 1018.6 93.5 1068.6 186.6 983.4 98.3 968.5 199.6 1005.3 232.8 1026.9 168.6 999.4 167.2 1037.1 191.1 1034.4 189.3 995.6 122.3 1104.4 227.8 1002.2 155.0 1053.8 156.1 975.7 138.4 1000.3 134.3 1021.7 202.1 966.3 217.0 1039.0 117.9 1062.9 123.1 968.2 167.6 1020.5 209.8 1081.6 142.2 969.4 111.9 1000.1 207.0 1037.1 219.6 1068.4 226.5 978.2 101.7 1087.5 126.6 976.6 194.5 972.1 224.8 1077.2 103.6 1085.2 135.2 973.4 232.4 972.1 116.1 973.0 157.6 985.9 197.0 1016.2 129.4 976.5 163.1 985.7 158.3 995.8 206.9 1005.5 94.0 968.9 101.1 1001.7 166.0 1027.1 204.2 974.4 92.4 1039.9 124.5 995.7 108.7 1036.6 182.1 978.0 169.8 1000.6 92.8 1030.9 113.0 967.7 130.8 1068.7 136.4 1000.0 161.6 1037.0 154.9 1030.4 124.2 975.0 182.7 1056.7 188.7 1016.2 155.0 1081.3 121.3 1052.1 150.7 1056.5 123.2 1019.6 181.9 1000.6 206.7 1008.7 136.7 1004.7 93.9 1058.5 143.2 967.0 228.8 1068.3 192.4 979.5 111.4 1059.3 148.7 1116.3 103.6 1067.0 128.0 1046.1 129.8 1020.4 190.8 970.2 93.0 997.0 222.7 1061.8 137.1 1007.8 228.5 1079.3 166.2 990.4 117.9 966.5 185.1 1008.3 213.3 966.5 220.2 969.0 148.6 967.8 115.5 1023.2 163.3 1055.7 166.3 1043.1 146.1 987.6 168.9 992.9 145.3 1055.9 105.7 994.8 145.3 1044.4 150.4 1127.2 175.9 1002.9 173.6 1037.4 187.9 1103.7 164.4 1024.9 215.2 986.3 170.9 1093.1 235.1 1008.9 239.9 1065.3 152.3 996.3 216.9 980.6 119.1 979.2 219.0 1043.8 170.2 1040.1 98.2 998.7 107.7 968.3 108.4 995.5 193.2 1011.5 214.0 1084.1 118.5 1017.9 219.8 1043.6 176.8 1002.7 157.9 1011.2 124.2 1003.1 224.9 1003.2 159.1 986.8 92.5 1018.7 114.0 1062.6 151.3 1034.3 136.9 1027.0 120.9 1017.9 93.8 980.7 92.5 975.0 139.3 981.3 191.6 977.1 131.9 975.3 164.7 1084.9 131.0 1049.7 155.5 1011.2 167.8 989.0 106.6 1059.9 110.3 992.1 154.1 1054.6 193.1 1019.1 217.2 1001.9 227.9 1052.8 130.4 999.4 155.4 1005.4 212.7 1029.7 164.3 1010.9 163.9 997.7 135.9 1042.4 232.2 979.5 92.5 974.6 192.1 1048.3 182.1 1053.8 161.4 1023.2 97.8 999.1 137.0 967.6 103.3 1017.3 163.1 1049.0 185.4 1053.7 147.5 1000.5 208.7 997.8 219.5 984.7 94.0 1061.6 188.7 1049.9 194.5 997.9 149.0 966.5 144.3 1035.4 187.7 967.0 108.0 1028.2 188.0 1008.1 93.0 1046.5 151.5 1011.8 213.4 1037.1 119.4 1105.9 138.7 1038.2 115.4 978.9 213.5 1057.8 170.6 1020.0 196.2 1068.5 177.4 995.7 104.7 1101.5 172.5 1082.1 109.9 1056.3 205.8 991.0 126.3 1006.3 206.8 983.3 94.9 996.9 177.2 1078.5 121.4 1001.7 191.5 1050.9 108.8 1077.5 151.4 1045.8 133.4 1014.6 173.9 1038.5 179.9 1015.7 110.4 1005.6 234.3 1026.9 177.7 1055.8 204.6 1016.8 92.5 981.8 190.6 1032.1 159.2 997.5 92.8 966.5 153.4 975.5 127.6 992.4 151.6 1023.6 113.4 1054.9 201.2 1094.4 161.8 1035.8 160.5 1041.4 212.4 1052.6 132.0 1035.4 237.0 1025.1 242.3 1003.3 149.5 1062.6 119.0 1033.0 167.1 1051.4 93.3 1037.3 215.3 1014.7 102.7 980.7 189.2 976.3 94.9 1037.3 110.8 1006.9 220.9 980.8 183.2 992.8 152.1 979.7 196.5 1062.6 106.2 1031.4 176.8 1056.8 100.8 997.6 183.9 1002.3 98.4 1012.4 222.9 977.4 102.0 966.5 123.5 1083.7 145.3 989.9 215.0 1025.1 117.9 1079.4 160.5 979.6 92.5 1013.9 153.0 1062.1 121.9 1004.2 252.6 1002.4 145.4 985.4 154.6 1049.8 99.2 1068.7 143.5 1045.2 154.4 1012.0 157.5 1028.3 210.3 1024.4 137.1 1011.1 209.2 1037.1 200.1 1020.4 224.8 1034.8 178.4 973.5 92.5 1004.9 125.4 1037.7 129.6 1088.9 149.7 1017.6 203.6 977.3 130.4 966.5 246.5 1092.8 132.6 1072.3 194.4 1069.6 119.8 970.0 139.2 987.0 177.9 1030.1 131.5 1032.8 164.4 1011.1 92.5 1018.1 117.0 1038.6 158.7 1083.0 112.1 988.2 109.0 1086.8 124.0 1074.8 99.4 975.4 102.9 966.6 206.3 983.5 152.9 968.5 118.1 985.2 94.1 1003.9 211.3 1086.7 96.7 987.9 94.0 1057.7 136.3 1023.5 98.9 1024.6 147.5 1005.9 155.1 1045.5 209.9 966.5 166.3 1043.9 111.3 969.1 92.5 1017.7 135.2 966.5 237.9 1043.8 110.5 1032.4 207.5 986.0 95.5 966.5 107.4 1015.3 92.5 1081.2 173.7 1029.3 151.2 993.3 218.6 1129.0 173.2 1061.9 96.6 1093.1 92.7 1000.8 250.5 1037.0 136.2 974.4 137.4 1071.6 99.5 1025.8 203.9 979.9 203.3 1044.8 175.2 1001.1 112.1 1032.8 124.0 1022.0 92.9 972.4 145.6 1011.2 110.0 1069.2 144.4 1034.3 186.4 977.8 93.7 1036.9 136.4 989.1 93.0 1080.1 172.5 1037.3 186.1 989.2 93.7 1026.0 101.4 1045.9 195.9 1019.8 211.0 1014.2 258.5 1014.8 92.5 973.8 212.7 1016.1 130.5 1012.8 109.2 998.8 192.5 973.2 101.6 992.1 92.9 1075.2 148.9 1031.8 100.8 973.5 159.5 1016.1 224.1 1063.1 148.7 972.7 198.1 1059.1 121.8 1002.4 133.7 996.4 130.0 982.4 151.9 1106.9 126.5 971.6 117.9 973.6 162.0 1027.9 187.3 982.1 92.5 1005.9 218.3 1027.2 120.1 1028.3 207.9 1005.6 206.2 969.1 141.9 975.9 123.3 1084.9 99.2 987.3 123.2 1071.5 171.7 1019.6 192.5 1068.8 147.5 979.6 92.5 1032.3 126.9 972.9 152.9 990.3 168.6 991.3 213.2 966.6 200.2 1018.2 128.1 1068.2 244.7 983.2 231.3 966.5 103.5 1016.6 117.9 1074.8 180.0 1032.3 157.4 1075.8 202.4 1001.4 101.4 1024.0 169.5 989.3 122.5 1104.4 177.0 996.8 92.5 966.5 256.5 1004.1 137.8 983.7 94.6 989.0 108.8 1003.4 190.6 1038.2 184.3 1024.3 137.7 1004.4 228.6 1015.8 124.0 995.2 94.5 983.7 226.0 1058.6 189.9 995.2 232.5 1103.7 254.9 969.2 194.9 994.0 110.0 1039.1 157.4 1006.5 92.5 988.5 207.1 1016.5 146.6 1063.6 115.0 971.8 150.9 987.7 164.7 1005.2 161.4 1070.7 198.0 974.4 106.3 1005.6 110.0 991.7 126.1 991.5 92.5 976.7 219.1 1114.9 227.8 994.1 175.9 987.7 157.6 980.3 175.2 1006.4 97.7 1001.6 130.2 1022.7 206.2 968.1 132.9 979.2 108.9 1000.1 105.9 1006.3 217.8 990.9 132.8 967.2 181.5 1064.6 209.9 975.7 154.1 983.2 220.0 984.2 202.4 1061.2 186.3 1011.8 171.3 1052.1 156.2 1066.3 203.7 1004.5 201.2 1017.3 92.5 1039.9 171.9 968.6 157.4 1112.0 131.3 967.2 176.3 1040.0 167.7 979.8 185.8 1055.4 187.3 966.5 181.3 1079.7 170.0 997.5 232.6 1042.3 179.2 1053.1 192.3 995.7 146.4 968.2 94.9 1007.9 157.0 1032.0 110.4 1063.4 194.1 1123.5 168.2 1026.3 161.0 979.1 156.1 1052.9 139.2 1124.2 110.8 999.7 125.9 1101.2 147.9 980.4 174.2 1138.1 173.0 1029.0 117.7 966.5 175.5 994.9 123.6 988.6 136.9 1080.8 112.0 1014.4 209.5 1050.6 176.4 1030.6 156.5 984.8 92.5 966.8 162.9 1018.5 125.1 971.9 167.5 1040.8 161.6 1000.6 163.8 1005.7 128.6 980.7 192.6 1005.3 171.6 978.2 117.6 1002.3 156.1 1018.0 115.8 1114.0 183.9 966.5 187.3 1055.0 133.1 1062.1 200.9 978.0 189.9 967.3 224.8 1098.3 196.9 970.0 163.7 1077.8 102.5 1062.6 168.2 971.5 186.0 996.2 127.3 980.0 119.1 1026.1 174.7 1021.5 228.2 1045.4 180.0 995.6 220.3 985.3 188.2 968.2 202.7 995.7 110.7 1003.1 211.6 1031.0 155.9 1010.5 270.6 984.0 138.1 1029.7 213.3 1018.6 203.5 966.6 245.6 996.0 257.3 1071.6 155.8 1029.8 231.1 992.2 119.0 984.3 211.9 1045.0 168.0 977.7 105.4 1101.1 92.3 1071.1 194.8 977.3 174.1 1055.6 166.8 966.5 96.1 985.8 148.0 967.2 188.6 1015.6 202.6 1031.3 111.3 1069.1 202.1 1009.1 224.3 992.5 141.8 1006.5 92.5 1087.0 163.2 990.3 222.3 1080.4 269.0 1002.0 97.2 1031.6 220.7 976.5 92.5 1049.6 180.4 975.5 190.9 1051.2 154.1 1003.2 92.5 971.2 203.2 979.2 173.0 1049.8 186.8 974.6 93.2 981.8 199.6 1016.6 114.9 1053.8 152.7 1006.5 110.5 1052.4 182.7 966.5 98.5 1028.3 199.4 1022.4 218.0 1010.7 140.7 986.0 130.9 1007.0 187.9 1019.1 147.9 1025.9 181.0 1114.1 127.4 966.5 148.4 966.5 151.6 1020.4 130.7 1050.8 106.0 979.7 120.2 1044.6 180.9 1009.9 163.1 1107.7 119.4 999.9 290.2 1001.3 92.5 981.5 213.8 988.3 192.9 966.5 142.4 1011.8 100.7 1031.4 191.3 1063.2 201.4 1006.2 227.8 1065.3 159.6 1124.6 101.3 997.0 120.9 983.6 147.9 980.1 92.5 989.8 181.7 1032.2 131.4 1067.5 185.6 1034.5 141.2 981.4 178.3 1013.2 92.5 966.5 180.8 1062.8 192.5 1079.4 168.8 976.9 124.4 1049.2 210.9 995.0 168.4 979.5 105.4 974.7 221.6 986.4 131.3 1050.9 168.4 1004.9 162.6 1002.4 158.4 1077.1 196.1 1006.2 164.6 1019.3 143.3 1062.4 126.3 981.5 138.2 1047.6 152.5 1040.5 214.1 966.1 252.6 1043.6 210.9 967.1 135.1 976.1 213.4 1024.0 200.0 985.3 92.5 966.5 141.5 981.5 124.8 1017.2 112.8 1106.3 183.6 1022.3 214.2 982.0 197.7 974.0 120.4 985.9 208.0 1056.7 111.6 971.2 201.8 994.9 128.4 1006.4 202.0 1020.8 111.0 1044.7 151.2 1139.4 126.7 1028.4 219.1 1027.8 219.3 1038.6 199.8 1144.0 194.8 973.4 143.5 1031.0 125.3 992.3 92.5 989.5 152.4 1089.2 157.7 969.3 166.2 999.5 106.9 977.5 232.4 1022.6 227.2 1110.3 157.8 1039.1 190.5 978.5 144.0 973.7 246.2 1053.5 191.3 1088.5 119.4 969.8 179.7 1063.4 97.7 1043.1 112.6 1060.1 92.7 1028.0 196.9 1121.6 179.0 981.5 92.5 982.2 194.9 1014.7 219.4 1021.1 105.6 967.7 209.6 1074.6 168.1 1000.7 180.9 988.1 232.7 1012.5 214.0 967.0 98.6 1015.1 92.9 1071.1 200.8 1003.0 117.5 967.3 196.3 1040.7 179.9 999.3 136.3 1023.7 99.0 1038.3 165.4 966.5 144.0 1024.9 128.4 1064.6 122.2 1005.7 219.1 977.9 113.5 1031.5 246.0 1019.8 152.1 1005.0 116.6 1010.8 112.8 993.1 92.5 982.9 209.8 1010.2 121.7 966.5 185.7 1008.6 188.9 1048.1 107.5 996.3 210.9 1007.4 175.7 1013.3 169.0 995.8 186.9 989.0 92.5 978.9 129.5 993.7 94.3 966.5 95.9 1052.9 163.9 1111.0 241.0 1005.6 157.8 1028.1 205.4 1004.0 131.1 985.2 153.5 1131.5 163.1 1025.3 241.0 1086.3 112.5 984.3 145.2 1020.5 144.8 1112.1 156.7 1017.5 214.5 966.5 197.1 1074.7 98.3 1082.0 139.9 1058.1 197.4 998.6 106.6 1058.5 203.1 1046.4 236.1 1089.1 208.6 1046.1 105.4 1035.5 190.0 1049.6 115.3 986.5 127.7 983.5 147.5 1007.9 224.3 993.6 138.9 991.2 121.4 1004.8 173.3 1057.0 186.5 968.5 213.3 967.6 135.8 996.2 217.9 1015.8 93.9 1011.4 157.9 1010.9 92.5 1003.8 210.0 1045.4 147.1 987.2 181.7 1005.8 190.6 1029.8 155.5 974.8 237.1 1024.1 209.0 1083.9 111.6 982.3 92.5 1010.3 161.1 1000.3 108.4 1073.1 154.3 1042.6 134.5 978.5 145.6 966.5 145.8 971.7 171.8 1013.5 131.1 1108.3 283.4 967.0 164.1 1004.5 110.0 1028.7 237.4 1003.4 144.9 1001.1 220.7 1026.4 239.1 1051.3 190.6 1006.7 124.2 966.8 235.4 1078.9 188.7 1013.7 155.4 1020.0 200.1 1069.3 128.7 1021.4 216.8 1040.9 149.6 1059.4 222.8 968.0 95.4 1009.2 172.3 1007.1 198.5 1009.7 99.7 971.3 206.0 997.8 96.4 1091.7 120.0 986.5 232.7 966.9 221.4 1004.0 229.5 966.5 198.7 988.5 129.9 1050.8 179.5 1019.8 180.7 973.0 179.4 966.5 256.3 1037.8 151.2 1004.0 111.0 971.9 115.7 1083.6 123.9 1038.4 114.9 1037.4 198.2 986.3 213.2 1045.1 133.0 994.3 206.7 990.0 146.8 1076.1 186.7 966.5 165.1 997.3 146.2 1090.5 141.9 1076.0 139.2 1027.9 141.7 1006.7 120.3 1026.9 181.0 1025.0 121.1 1013.7 92.5 1008.7 190.7 1054.9 182.9 1010.8 171.0 1005.1 230.5 1054.5 114.8 1101.7 111.5 1021.9 191.9 976.5 113.9 1056.5 187.0 984.3 163.9 969.7 214.0 1000.3 100.6 999.8 92.5 994.6 242.6 968.0 242.4 976.5 92.8 1116.3 137.1 1012.2 138.1 1048.0 171.4 983.5 181.1 1024.1 214.1 992.0 122.1 1001.8 144.3 1034.9 140.0 969.1 212.8 1053.0 203.2 1049.1 134.2 1080.8 172.8 1025.6 191.0 1076.9 105.1 1025.8 173.8 976.0 133.2 982.3 158.4 984.4 115.0 1037.3 180.9 1022.2 218.6 1027.2 128.3 1026.0 125.8 1043.2 101.7 986.4 180.5 1021.0 172.6 966.5 118.1 1021.1 116.7 1009.7 117.2 998.6 210.1 1082.4 189.9 1012.7 136.4 1063.3 144.7 1077.4 154.5 1071.5 186.4 1043.5 113.3 988.4 190.8 1029.2 204.8 1007.6 107.2 1007.1 117.8 979.4 229.4 996.4 120.8 1001.1 92.6 987.2 183.9 1001.8 196.2 983.3 126.6 994.3 93.1 984.2 205.1 970.4 210.5 1031.7 261.1 1040.0 181.8 1042.6 138.9 1017.2 93.1 1030.2 221.6 967.5 126.7 999.6 194.4 1036.6 216.9 986.1 95.3 1009.2 214.8 1087.7 111.2 978.1 146.8 987.7 143.8 1061.6 159.8 1054.9 197.5 1008.1 164.3 971.5 157.4 994.3 92.5 992.3 146.8 1017.5 164.3 1031.5 110.3 1054.1 138.8 1038.0 110.7 1043.7 101.7 1015.4 133.8 1021.7 117.9 1076.2 136.3 1001.7 124.2 1039.6 169.4 1007.7 124.7 1074.8 207.4 998.6 141.5 989.0 224.0 979.2 215.0 1066.0 192.8 1127.4 138.8 967.9 151.7 1009.5 92.5 1008.8 152.5 1015.5 163.3 1031.5 119.0 1068.1 167.7 988.8 154.7 1074.3 140.6 1057.3 106.0 1045.6 92.6 1033.4 188.7 981.6 228.6 972.9 210.9 1094.4 188.2 1020.9 225.7 1027.8 182.1 1003.7 95.4 989.5 214.8 971.9 169.6 1004.7 96.6 1067.5 96.3 989.8 92.5 1118.3 132.1 1066.9 92.9 968.5 176.4 1045.8 109.3 1001.6 191.9 1022.8 156.0 1064.1 152.0 1014.0 206.7 1025.4 157.3 1111.4 190.6 1143.1 151.4 989.9 289.7 967.1 281.2 987.8 237.8 968.7 280.1 968.0 274.6 1131.5 113.5 984.1 282.8 968.8 289.8 1128.6 117.8 1079.8 264.3 994.6 287.0 971.9 285.4 982.5 286.5 1023.7 281.7 969.1 271.1 974.7 278.7 965.5 282.3 993.1 280.7 1066.6 264.8 1037.5 273.8 1047.6 277.5 969.8 271.1 1125.5 262.6 1079.3 250.5 1134.8 120.8 1136.1 139.0 1001.5 288.8 1126.8 150.5 965.3 288.7 967.7 279.9 1004.7 282.3 1116.9 111.5 1117.6 141.7 1011.1 255.3 1111.6 270.1 1137.4 290.4 1105.0 266.8 1058.1 289.7 1101.1 247.6" fill="none" stroke="none" marker-start="url(#mY)" marker-mid="url(#mY)" marker-end="url(#mY)"/>
<path d="M1155.9 165.1 1153.3 184.9 1079.8 295.5 988.8 312.9 1150.7 156.5 1172.5 227.8 1195.0 177.0 1168.5 257.6 1013.2 306.6 1152.1 132.5 1167.8 255.6 1150.8 164.7 1171.8 112.2 1198.9 193.5 1163.0 120.8 1169.2 283.4 1153.3 188.9 1167.2 168.4 1234.6 117.5 1153.9 157.1 1222.7 201.4 1194.3 290.0 1185.0 173.4 1069.3 299.7 1157.4 154.1 1165.9 273.4 1159.0 103.6 1152.6 128.7 1015.8 292.8 1055.0 336.3 1163.2 141.9 1171.2 181.6 1147.3 197.5 1166.5 152.5 1044.9 328.9 1157.9 138.6 1228.7 107.5 1165.9 263.9 1153.3 142.6 1151.3 211.3 1039.6 299.2 1011.1 315.1 1162.6 167.1 1164.5 206.0 1161.2 191.1 996.2 295.0 1034.9 327.8 1159.0 147.9 1149.3 164.4 1160.6 207.0 1155.3 173.7 1035.4 325.1 1126.8 306.5 1165.2 229.1 1201.6 125.4 1099.1 423.8 999.4 318.2 1243.9 142.6 1239.9 156.5 1202.9 186.2 969.1 377.6 1194.3 139.0 1174.5 148.1 977.7 386.2 1016.2 322.1 997.3 387.1 1014.2 357.4 1235.7 192.5 997.7 318.4 987.2 301.5 1253.8 145.9 1182.4 208.6 1018.5 380.5 1116.2 444.4 1306.7 173.7 1179.1 128.7 1048.6 342.6 980.4 381.2 968.6 315.8 1019.3 430.9 978.9 443.5 1020.5 385.4 1017.3 436.2 991.5 329.9 999.4 392.4 1018.5 350.0 1014.6 430.9 1007.9 397.1 996.7 330.8 968.2 314.4 1179.1 118.1 1268.4 128.7 971.0 357.1 1147.3 149.9 1241.9 172.7 1022.6 464.6 1022.2 306.6 1161.0 96.3 1086.5 373.5 1036.1 367.8 1033.8 361.1 1242.6 137.3 1286.2 148.5 984.6 365.4 1238.0 161.8 1005.3 359.6 995.9 307.4 1101.1 391.4 987.2 355.3 974.3 297.7 975.1 360.6 1222.7 181.6 1069.8 310.3 983.5 341.4 986.2 377.5 1286.2 185.6 971.4 357.3 1274.3 141.9 993.0 382.7 991.7 382.0 1263.1 104.9 1150.4 120.5 1005.2 334.7 989.6 314.7 1165.9 183.6 1005.2 367.0 986.2 351.7 966.3 422.7 1101.3 476.3 974.4 300.7 1005.8 336.6 1019.5 370.1 1163.2 233.8 1092.5 357.6 1020.6 389.2 1003.2 294.9 1023.7 340.0 1236.6 110.2 979.8 293.4 998.4 352.7 996.2 337.3 1016.0 336.9 1135.4 318.0 1168.5 221.2 1098.6 425.3 990.9 315.1 1207.9 226.7 1279.0 207.3 1191.7 114.1 1148.7 130.0 1033.8 367.0 1227.4 136.6 1025.9 399.8 1164.5 128.0 1035.9 349.0 964.3 301.0 968.3 310.1 1214.8 150.9 966.8 302.9 1171.2 232.4 976.7 337.9 1345.5 236.6 1006.0 307.4 1022.5 389.6 983.5 315.1 1257.1 143.9 992.4 295.7 1003.6 330.2 1005.9 357.3 970.3 298.1 1248.5 112.6 1002.4 372.7 1243.9 124.7 973.9 363.3 1234.6 169.0 1014.2 404.0 978.2 377.0 1024.9 324.9 965.8 339.7 1092.5 346.4 1030.1 332.0 1165.9 162.4 1217.5 114.8 1189.7 126.1 974.0 351.1 1011.1 389.2 1069.8 374.9 982.9 369.5 1014.2 369.1 974.5 381.2 1197.3 171.3 969.8 368.0 1026.9 420.3 1328.9 138.7 1062.0 448.4 1016.5 363.9 1346.3 172.9 972.5 358.4 1239.3 249.6 987.5 400.8 1208.2 153.2 1254.5 124.7 1173.8 130.0 969.3 345.8 1006.8 309.9 978.2 349.0 1214.1 158.5 1016.3 311.9 973.5 338.7 1169.8 102.9 993.2 401.8 971.7 376.9 1014.2 344.2 1196.9 117.5 988.8 301.3 986.7 338.9 1022.7 376.5 1206.2 179.6 1058.7 328.9 1028.7 333.3 972.6 341.0 1237.3 141.9 996.2 346.7 1186.4 274.5 980.0 397.6 1021.6 394.5 981.9 330.5 1019.0 299.7 1231.3 152.5 1087.8 390.1 1211.5 198.8 1332.4 210.2 967.9 310.9 993.1 371.2 979.7 294.2 968.4 295.6 1199.6 134.0 999.8 389.5 1068.9 454.1 1257.8 173.7 1202.2 114.1 1216.1 109.5 1055.0 364.3 970.8 336.3 1204.2 195.5 1002.1 301.3 985.7 396.6 1222.7 171.7 1002.1 374.9 1184.4 123.4 1171.8 143.2 989.4 304.0 982.5 342.6 1270.4 147.9 1018.2 327.1 1007.8 372.0 965.0 301.4 999.4 402.9 991.3 316.3 1031.5 352.9 1326.0 208.6 964.5 293.9 969.8 323.5 1186.6 150.1 1224.7 124.7 1007.9 411.9 1254.5 136.6 1051.8 361.7 997.3 309.2 1024.8 352.1 1014.2 360.4 975.6 353.9 995.8 383.9 971.9 291.8 975.1 311.4 1215.5 124.7 1007.9 378.6 1206.9 134.6 1185.7 164.8 1106.3 387.4 990.9 348.4 1109.6 343.1 1251.2 121.4 1001.2 381.5 984.6 322.5 1066.6 361.7 1004.7 359.0 1178.4 179.6 1277.6 162.4 1001.8 443.7 978.2 393.4 1167.5 112.2 1250.5 201.4 993.1 306.6 1013.2 362.7 1265.1 171.7 1016.3 331.0 1029.2 478.5 1025.9 381.8 969.1 329.3 1181.7 161.1 1001.5 331.5 1006.8 310.3 1181.1 248.6 980.9 306.6 981.3 378.4 1090.5 394.7 988.1 316.4 992.5 402.9 1206.9 128.7 980.0 373.1 1026.9 341.6 985.1 409.3 1056.6 385.0 1021.6 323.5 1004.2 344.7 1151.3 112.2 1278.9 207.3 991.8 374.7 971.9 392.4 990.0 315.5 1024.8 415.1 1184.4 133.3 1228.0 177.0 986.2 384.4 1073.2 458.0 1231.3 141.9 1012.1 405.6 1204.9 103.6 985.8 321.0 996.2 364.8 996.0 358.4 1021.6 325.2 1186.4 139.9 1065.0 318.8 1001.6 394.6 998.6 352.0 1064.5 333.1 1011.1 372.3 1261.8 164.4 1135.4 315.1 1025.3 358.0 1028.0 353.2 1086.5 404.6 1011.3 419.9 1033.3 341.0 1010.5 350.0 980.4 299.7 976.1 368.5 990.9 395.5 1190.7 218.5 1174.5 165.5 1164.5 202.1 1088.5 362.3 1089.1 343.8 982.7 301.7 1030.6 391.3 1265.1 186.9 1018.3 333.6 966.7 299.6 1083.5 394.5 976.7 319.3 966.7 317.1 1006.8 321.4 1206.2 111.5 966.1 306.6 1000.8 321.8 1270.4 164.4 1021.9 460.7 1029.0 323.5 972.2 338.2 1008.9 328.3 1021.1 376.8 974.5 327.3 1188.1 98.3 1120.9 352.4 992.5 362.7 980.4 324.3 1169.6 131.6 966.1 320.3 1157.9 110.8 1286.2 167.1 985.3 297.6 1286.2 124.1 1048.6 400.8 1064.0 325.2 1144.0 331.9 1064.0 324.1 1142.7 321.9 1111.0 292.0 1206.9 274.5 1241.9 288.0 1067.7 353.7" fill="none" stroke="none" marker-start="url(#mB)" marker-mid="url(#mB)" marker-end="url(#mB)"/>
<path d="M1191.7 359.4 1167.8 305.8 1225.4 381.5 1170.5 345.7 1204.9 366.0 1271.7 506.7 1191.0 349.7 1185.0 297.3 1165.9 330.5 1204.2 335.2 1230.0 327.9 1202.9 300.6 1167.2 324.6 1210.2 307.2 1186.4 291.3 1227.4 384.8 1239.3 310.2 1181.7 325.2 1210.8 329.9 1195.6 315.3 1232.0 307.2 1195.0 293.9 1224.7 326.6 1189.0 306.5 1229.4 301.2 1201.6 311.8 1200.9 291.3 1221.4 304.5 1221.4 299.9 1206.2 337.8 1168.5 296.6 1213.5 312.5 1200.3 329.2 1196.3 328.5 1214.1 313.3 1179.1 312.5 1224.1 384.1 1215.5 306.5 1183.7 303.2 1199.6 320.0 1179.8 298.6 1177.8 386.4 1242.6 422.5" fill="none" stroke="none" marker-start="url(#mG)" marker-mid="url(#mG)" marker-end="url(#mG)"/>
<path d="M1157.9 337.1 1157.3 389.4 1241.3 337.8 1182.4 342.4 1173.1 327.9 1165.9 347.7 1175.8 364.9 1165.2 362.9 1159.9 309.8 1178.4 361.0 1157.3 317.3 1169.2 339.1 1154.0 313.1 1170.5 313.8 1150.7 299.2 1260.4 406.6 1176.4 325.2 1260.4 413.2 1154.0 314.0 1172.5 357.0 1156.6 344.4 1158.6 330.5 1157.9 323.9 1194.3 301.9 1186.4 318.0 1241.9 341.8 1169.2 353.0 1357.8 317.1 1187.0 519.7 1184.4 520.8" fill="none" stroke="none" marker-start="url(#mR)" marker-mid="url(#mR)" marker-end="url(#mR)"/>
<path d="M1033.8 529.7 1154.8 556.1 1367.0 192.7 1401.4 133.5 1049.3 584.9 1082.4 533.9 1170.4 702.1 1044.7 661.7 1187.2 705.8 1472.2 139.5 1060.3 704.3 1065.3 722.4 1063.2 717.8 1070.7 704.7 1168.2 702.9 1065.8 724.6 1062.9 728.5 1454.3 142.4 1457.5 136.4 973.3 596.8 1479.7 138.7 1047.5 753.6 1488.4 145.1 1200.1 587.9 1176.9 706.5 1183.2 641.0 1450.3 142.7 1047.5 755.0 1058.8 704.3 1190.2 582.3" fill="none" stroke="none" marker-start="url(#mP)" marker-mid="url(#mP)" marker-end="url(#mP)"/>
<rect x="123.9" y="63.65" width="680.2" height="748.8000000000001" fill="none" stroke="#000" stroke-width="2.0"/>
<path d="M150.0 812.45v-7.0M150.0 63.65v7.0" stroke="#000" stroke-width="1.6" fill="none"/>
<path d="M123.9 92.1h7.0M804.1 92.1h-7.0" stroke="#000" stroke-width="1.6" fill="none"/>
<path d="M280.8 812.45v-7.0M280.8 63.65v7.0" stroke="#000" stroke-width="1.6" fill="none"/>
<path d="M123.9 236.2h7.0M804.1 236.2h-7.0" stroke="#000" stroke-width="1.6" fill="none"/>
<path d="M411.6 812.45v-7.0M411.6 63.65v7.0" stroke="#000" stroke-width="1.6" fill="none"/>
<path d="M123.9 380.2h7.0M804.1 380.2h-7.0" stroke="#000" stroke-width="1.6" fill="none"/>
<path d="M542.4 812.45v-7.0M542.4 63.65v7.0" stroke="#000" stroke-width="1.6" fill="none"/>
<path d="M123.9 524.3h7.0M804.1 524.3h-7.0" stroke="#000" stroke-width="1.6" fill="none"/>
<path d="M673.2 812.45v-7.0M673.2 63.65v7.0" stroke="#000" stroke-width="1.6" fill="none"/>
<path d="M123.9 668.4h7.0M804.1 668.4h-7.0" stroke="#000" stroke-width="1.6" fill="none"/>
<rect x="940.3" y="63.65" width="680.5" height="748.8000000000001" fill="none" stroke="#000" stroke-width="2.0"/>
<path d="M966.5 812.45v-7.0M966.5 63.65v7.0" stroke="#000" stroke-width="1.6" fill="none"/>
<path d="M940.3 92.1h7.0M1620.8 92.1h-7.0" stroke="#000" stroke-width="1.6" fill="none"/>
<path d="M1097.3 812.45v-7.0M1097.3 63.65v7.0" stroke="#000" stroke-width="1.6" fill="none"/>
<path d="M940.3 236.2h7.0M1620.8 236.2h-7.0" stroke="#000" stroke-width="1.6" fill="none"/>
<path d="M1228.1 812.45v-7.0M1228.1 63.65v7.0" stroke="#000" stroke-width="1.6" fill="none"/>
<path d="M940.3 380.2h7.0M1620.8 380.2h-7.0" stroke="#000" stroke-width="1.6" fill="none"/>
<path d="M1358.9 812.45v-7.0M1358.9 63.65v7.0" stroke="#000" stroke-width="1.6" fill="none"/>
<path d="M940.3 524.3h7.0M1620.8 524.3h-7.0" stroke="#000" stroke-width="1.6" fill="none"/>
<path d="M1489.7 812.45v-7.0M1489.7 63.65v7.0" stroke="#000" stroke-width="1.6" fill="none"/>
<path d="M940.3 668.4h7.0M1620.8 668.4h-7.0" stroke="#000" stroke-width="1.6" fill="none"/>
<g font-family="DejaVu Sans, Liberation Sans, sans-serif" fill="#000" style="font-variant-ligatures:none;font-kerning:none">
<text x="87.9 137.1 151.7 185.6 199.7 249.9 280.0 280.0 306.9 331.0 365.0 386.7 404.9 433.6 460.8 460.8 504.0 531.2 546.0 574.8 599.6 623.0 636.9 657.3 669.5 697.0 725.6 746.0 760.1 793.6" y="49.0" font-size="61.5">Minimal surface classification</text>
<text x="1053.5 1092.9 1121.9 1121.9 1174.6 1201.8 1216.6 1245.1 1270.1 1294.2 1308.2 1328.6 1340.1 1367.1 1396.3 1416.7 1430.9 1464.5" y="49.0" font-size="61.5">GLN classification</text>
<text x="409.3" y="906.0" font-size="41" textLength="157.7" lengthAdjust="spacing">max GLN</text>
<text x="1214.3" y="899.7" font-size="41" textLength="157.6" lengthAdjust="spacing">max GLN</text>
<text transform="translate(37.3 536) rotate(-90)" font-size="41">min GLN</text>
<text x="137.1" y="856.5" font-size="41">0</text>
<text x="958.7" y="856.5" font-size="41">0</text>
<text x="261.6 280.6 290.9" y="856.5" font-size="41">0.5</text>
<text x="1083.2 1102.2 1112.5" y="856.5" font-size="41">0.5</text>
<text x="389.0 408.0 418.8" y="856.5" font-size="41">1.0</text>
<text x="1210.6 1229.6 1240.4" y="856.5" font-size="41">1.0</text>
<text x="525.2 545.8 555.4" y="856.5" font-size="41">1.5</text>
<text x="1346.8 1367.4 1377.0" y="856.5" font-size="41">1.5</text>
<text x="661.0 681.7 691.8" y="856.5" font-size="41">2.0</text>
<text x="1482.6 1503.3 1513.4" y="856.5" font-size="41">2.0</text>
<text x="780.2 801.5 809.9" y="856.5" font-size="41">2.5</text>
<text x="1601.8 1623.1 1631.5" y="856.5" font-size="41">2.5</text>
<text x="84.4" y="105.9" font-size="41">0</text>
<text x="50.3 63.5 83.9 92.3" y="245.1" font-size="41">-0.5</text>
<text x="50.0 62.6 83.0 91.6" y="390.7" font-size="41">-1.0</text>
<text x="47.9 60.5 81.5 89.9" y="535.3" font-size="41">-1.5</text>
<text x="47.9 60.5 81.8 90.1" y="676.6" font-size="41">-2.0</text>
<text x="50.6 62.9 83.6 92.6" y="818.5" font-size="41">-2.5</text>
<text x="902.2" y="110.0" font-size="41">0</text>
<text x="867.9 881.1 901.5 909.9" y="249.8" font-size="41">-0.5</text>
<text x="867.6 880.3 900.8 909.4" y="395.0" font-size="41">-1.0</text>
<text x="866.0 878.4 899.4 907.8" y="539.5" font-size="41">-1.5</text>
<text x="866.0 878.2 899.4 907.5" y="680.6" font-size="41">-2.0</text>
<text x="867.6 879.9 900.8 909.4" y="824.5" font-size="41">-2.5</text>
<rect x="615.10" y="538.10" width="28.2" height="24.6" fill="#afc21e" stroke="#000" stroke-width="2"/>
<rect x="1417.40" y="540.40" width="27.7" height="24.0" fill="#afc21e" stroke="#000" stroke-width="2"/>
<rect x="615.10" y="593.30" width="28.2" height="24.6" fill="#3757b6" stroke="#000" stroke-width="2"/>
<rect x="1417.40" y="594.80" width="27.7" height="24.0" fill="#3757b6" stroke="#000" stroke-width="2"/>
<rect x="615.10" y="642.30" width="28.2" height="24.6" fill="#2a8a40" stroke="#000" stroke-width="2"/>
<rect x="1417.40" y="643.70" width="27.7" height="24.0" fill="#2a8a40" stroke="#000" stroke-width="2"/>
<rect x="615.45" y="693.75" width="29.3" height="26.2" fill="#ff0000" stroke="#3a0000" stroke-width="1.1"/>
<rect x="1416.95" y="696.15" width="29.3" height="25.6" fill="#ff0000" stroke="#3a0000" stroke-width="1.1"/>
<rect x="615.10" y="746.90" width="28.2" height="24.6" fill="#8b3a9f" stroke="#000" stroke-width="2"/>
<rect x="1417.40" y="748.70" width="27.7" height="24.0" fill="#8b3a9f" stroke="#000" stroke-width="2"/>
<text x="665.6" y="561.5" font-size="44">L</text>
<text x="694.0" y="572.8" font-size="36">0</text>
<text x="666.3" y="612.0" font-size="41">L</text>
<text x="690.0" y="622.2" font-size="36" textLength="48.7" lengthAdjust="spacing">1+</text>
<text x="665.5" y="666.8" font-size="44">L</text>
<text x="689.6" y="674.0" font-size="36" textLength="49.4" lengthAdjust="spacing">2+</text>
<text x="665.5" y="719.7" font-size="44">L</text>
<text x="692.7" y="723.7" font-size="36" textLength="49.2" lengthAdjust="spacing">3+</text>
<text x="665.5" y="772.2" font-size="44" textLength="49.8" lengthAdjust="spacing">LS</text>
<text x="1463.9" y="561.4" font-size="44">g</text>
<text x="1488.6" y="561.4" font-size="44">L</text>
<text x="1516.1" y="573.0" font-size="36">0</text>
<text x="1464.5" y="615.4" font-size="41">g</text>
<text x="1487.4" y="615.4" font-size="41">L</text>
<text x="1514.7" y="620.9" font-size="36" textLength="49.3" lengthAdjust="spacing">1+</text>
<text x="1464.1" y="666.8" font-size="44">g</text>
<text x="1487.8" y="666.8" font-size="44">L</text>
<text x="1515.2" y="677.0" font-size="36" textLength="49.4" lengthAdjust="spacing">2+</text>
<text x="1464.1" y="719.7" font-size="44">g</text>
<text x="1487.8" y="719.7" font-size="44">L</text>
<text x="1516.1" y="724.5" font-size="36" textLength="49.7" lengthAdjust="spacing">3+</text>
<text x="1464.0" y="772.7" font-size="44">g</text>
<text x="1487.8" y="772.7" font-size="44" textLength="49.7" lengthAdjust="spacing">LS</text>
</g></svg>
</body></html>
